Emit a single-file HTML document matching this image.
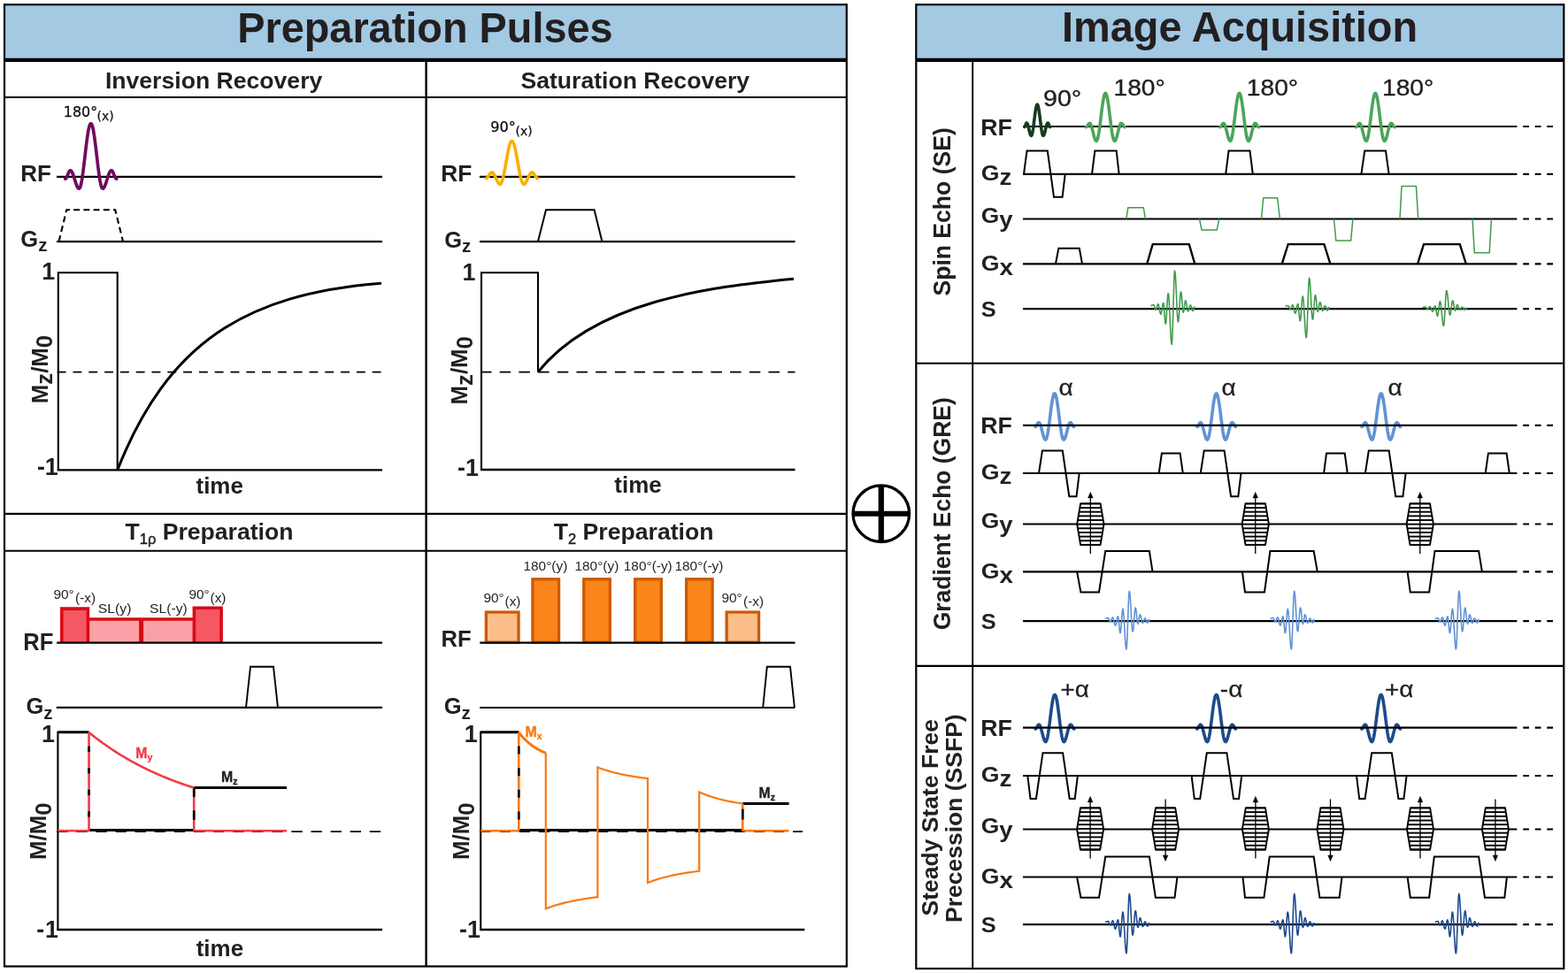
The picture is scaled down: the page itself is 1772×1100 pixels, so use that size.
<!DOCTYPE html>
<html><head><meta charset="utf-8"><title>Preparation Pulses and Image Acquisition</title>
<style>html,body{margin:0;padding:0;background:#fff;}svg{display:block;}</style></head>
<body><svg xmlns="http://www.w3.org/2000/svg" width="1772" height="1100" viewBox="0 0 1772 1100">
<rect x="0" y="0" width="1772" height="1100" fill="#fff"/>
<rect x="5" y="5" width="952" height="62" fill="#a3c9e3" stroke="none" stroke-width="0"/>
<rect x="1035.3" y="5.2" width="732" height="62" fill="#a3c9e3" stroke="none" stroke-width="0"/>
<line x1="5" y1="67.9" x2="957" y2="67.9" stroke="#000" stroke-width="4.4" stroke-linecap="butt"/>
<line x1="1035.3" y1="67.9" x2="1767.3" y2="67.9" stroke="#000" stroke-width="4.4" stroke-linecap="butt"/>
<rect x="5" y="5.2" width="951.8" height="1087.3" fill="none" stroke="#000" stroke-width="2.2"/>
<rect x="1035.3" y="5.2" width="732" height="1089.8" fill="none" stroke="#000" stroke-width="2.2"/>
<line x1="481.6" y1="69" x2="481.6" y2="1092" stroke="#000" stroke-width="2.4" stroke-linecap="butt"/>
<line x1="5" y1="109.95" x2="957" y2="109.95" stroke="#000" stroke-width="2.1" stroke-linecap="butt"/>
<line x1="5" y1="580.9" x2="957" y2="580.9" stroke="#000" stroke-width="2.4" stroke-linecap="butt"/>
<line x1="5" y1="622.7" x2="957" y2="622.7" stroke="#000" stroke-width="2.1" stroke-linecap="butt"/>
<line x1="1099.2" y1="69" x2="1099.2" y2="1094" stroke="#000" stroke-width="1.9" stroke-linecap="butt"/>
<line x1="1035.3" y1="410.8" x2="1767.3" y2="410.8" stroke="#000" stroke-width="2.1" stroke-linecap="butt"/>
<line x1="1035.3" y1="752.9" x2="1767.3" y2="752.9" stroke="#000" stroke-width="2.1" stroke-linecap="butt"/>
<text x="480.4" y="47.6" font-family="'Liberation Sans', Arial, sans-serif" font-size="48.3" font-weight="bold" text-anchor="middle" fill="#231f20" textLength="424.4" lengthAdjust="spacingAndGlyphs">Preparation Pulses</text>
<text x="1401.1" y="47.4" font-family="'Liberation Sans', Arial, sans-serif" font-size="48.3" font-weight="bold" text-anchor="middle" fill="#231f20" textLength="402" lengthAdjust="spacingAndGlyphs">Image Acquisition</text>
<text x="241.6" y="99.7" font-family="'Liberation Sans', Arial, sans-serif" font-size="26.6" font-weight="bold" text-anchor="middle" fill="#231f20">Inversion Recovery</text>
<text x="717.8" y="99.7" font-family="'Liberation Sans', Arial, sans-serif" font-size="26.6" font-weight="bold" text-anchor="middle" fill="#231f20">Saturation Recovery</text>
<text x="141.5" y="609.6" font-family="'Liberation Sans', Arial, sans-serif" font-size="26.6" font-weight="bold" text-anchor="start" fill="#231f20" textLength="190" lengthAdjust="spacingAndGlyphs">T<tspan font-size="16.5" font-weight="normal" stroke="#231f20" stroke-width="0.45" dy="5">1ρ</tspan><tspan dy="-5"> Preparation</tspan></text>
<text x="625.8" y="609.6" font-family="'Liberation Sans', Arial, sans-serif" font-size="26.6" font-weight="bold" text-anchor="start" fill="#231f20">T<tspan font-size="16.5" font-weight="normal" stroke="#231f20" stroke-width="0.45" dy="5">2</tspan><tspan dy="-5"> Preparation</tspan></text>
<circle cx="995.8" cy="580.7" r="31.8" fill="none" stroke="#000" stroke-width="3.3"/>
<line x1="995.8" y1="548" x2="995.8" y2="613.5" stroke="#000" stroke-width="6.3" stroke-linecap="butt"/>
<line x1="963" y1="580.7" x2="1028.6" y2="580.7" stroke="#000" stroke-width="6" stroke-linecap="butt"/>
<text x="23.31" y="205.4" font-family="'Liberation Sans', Arial, sans-serif" font-size="25.22" font-weight="bold" text-anchor="start" fill="#231f20" textLength="34.68" lengthAdjust="spacingAndGlyphs">RF</text>
<line x1="64" y1="199.9" x2="432" y2="199.9" stroke="#000" stroke-width="2.2" stroke-linecap="butt"/>
<polyline points="73.7,202.2 74.11,202.08 74.53,201.73 74.94,201.16 75.36,200.41 75.77,199.51 76.19,198.51 76.6,197.45 77.01,196.39 77.43,195.39 77.84,194.49 78.26,193.74 78.67,193.17 79.09,192.82 79.5,192.7 80.2,192.96 80.91,193.72 81.61,194.94 82.32,196.56 83.02,198.5 83.73,200.67 84.43,202.95 85.13,205.23 85.84,207.4 86.54,209.34 87.25,210.96 87.95,212.18 88.66,212.94 89.36,213.2 90.31,212.28 91.27,209.56 92.22,205.17 93.17,199.34 94.12,192.37 95.08,184.59 96.03,176.4 96.98,168.21 97.94,160.43 98.89,153.46 99.84,147.63 100.79,143.24 101.75,140.52 102.7,139.6 103.65,140.52 104.61,143.24 105.56,147.63 106.51,153.46 107.46,160.43 108.42,168.21 109.37,176.4 110.32,184.59 111.28,192.37 112.23,199.34 113.18,205.17 114.13,209.56 115.09,212.28 116.04,213.2 116.74,212.94 117.45,212.18 118.15,210.96 118.86,209.34 119.56,207.4 120.27,205.23 120.97,202.95 121.67,200.67 122.38,198.5 123.08,196.56 123.79,194.94 124.49,193.72 125.2,192.96 125.9,192.7 126.31,192.82 126.73,193.17 127.14,193.74 127.56,194.49 127.97,195.39 128.39,196.39 128.8,197.45 129.21,198.51 129.63,199.51 130.04,200.41 130.46,201.16 130.87,201.73 131.29,202.08 131.7,202.2" fill="none" stroke="#700a60" stroke-width="3.7" stroke-linejoin="round" stroke-linecap="round"/>
<text x="71.8" y="132.2" font-family="'DejaVu Sans', Verdana, sans-serif" font-size="15.2" font-weight="normal" text-anchor="start" fill="#111" stroke="#111" stroke-width="0.3" textLength="38.3" lengthAdjust="spacingAndGlyphs">180°</text>
<text x="109.6" y="135.8" font-family="'DejaVu Sans', Verdana, sans-serif" font-size="13.9" font-weight="normal" text-anchor="start" fill="#111" stroke="#111" stroke-width="0.25">(x)</text>
<text x="23.3" y="278.8" font-family="'Liberation Sans', Arial, sans-serif" font-size="25.5" font-weight="bold" text-anchor="start" fill="#231f20">G<tspan dy="5.4" font-size="20.5">z</tspan></text>
<line x1="64" y1="273.1" x2="432" y2="273.1" stroke="#000" stroke-width="2.2" stroke-linecap="butt"/>
<polyline points="66.6,273 75.2,237.2 130.2,237.2 139,273" fill="none" stroke="#000" stroke-width="2.1" stroke-linejoin="miter" stroke-linecap="butt" stroke-dasharray="7 4.2"/>
<text x="47.3" y="315.5" font-family="'Liberation Sans', Arial, sans-serif" font-size="26.8" font-weight="bold" text-anchor="start" fill="#231f20">1</text>
<text x="42" y="536.6" font-family="'Liberation Sans', Arial, sans-serif" font-size="26.8" font-weight="bold" text-anchor="start" fill="#231f20">-</text>
<text x="50.7" y="536.6" font-family="'Liberation Sans', Arial, sans-serif" font-size="26.8" font-weight="bold" text-anchor="start" fill="#231f20">1</text>
<polyline points="65.8,531.4 65.8,308.3 132.7,308.3 132.7,531.4" fill="none" stroke="#000" stroke-width="2.1" stroke-linejoin="miter" stroke-linecap="butt"/>
<line x1="64.8" y1="531.4" x2="432" y2="531.4" stroke="#000" stroke-width="2.4" stroke-linecap="butt"/>
<line x1="64.7" y1="420.6" x2="432" y2="420.6" stroke="#000" stroke-width="1.7" stroke-linecap="butt" stroke-dasharray="9.9 7.9"/>
<path d="M132.7,531.4 C189.3,388.2 276.9,332.2 430.9,320.2" fill="none" stroke="#000" stroke-width="3"/>
<text x="248.2" y="557.8" font-family="'Liberation Sans', Arial, sans-serif" font-size="25.3" font-weight="bold" text-anchor="middle" fill="#231f20" textLength="53.4" lengthAdjust="spacingAndGlyphs">time</text>
<text transform="translate(53.6,417.5) rotate(-90)" x="0" y="0" font-family="'Liberation Sans', Arial, sans-serif" font-size="25.8" font-weight="bold" text-anchor="middle" fill="#231f20">M<tspan dy="5.5">z</tspan><tspan dy="-5.5">/M</tspan><tspan dy="5.5">0</tspan></text>
<text x="498.29" y="205" font-family="'Liberation Sans', Arial, sans-serif" font-size="26.09" font-weight="bold" text-anchor="start" fill="#231f20" textLength="35.11" lengthAdjust="spacingAndGlyphs">RF</text>
<line x1="542" y1="199.9" x2="898.5" y2="199.9" stroke="#000" stroke-width="2.2" stroke-linecap="butt"/>
<polyline points="549.5,201.4 549.94,201.32 550.39,201.08 550.83,200.69 551.27,200.18 551.72,199.56 552.16,198.87 552.6,198.15 553.05,197.43 553.49,196.74 553.93,196.12 554.38,195.61 554.82,195.22 555.26,194.98 555.71,194.9 556.38,195.07 557.06,195.56 557.73,196.35 558.41,197.4 559.08,198.66 559.76,200.07 560.43,201.55 561.11,203.03 561.78,204.44 562.46,205.7 563.13,206.75 563.81,207.54 564.48,208.03 565.16,208.2 566.11,207.59 567.07,205.79 568.02,202.89 568.97,199.03 569.92,194.42 570.88,189.27 571.83,183.85 572.78,178.43 573.74,173.28 574.69,168.67 575.64,164.81 576.59,161.91 577.55,160.11 578.5,159.5 579.45,160.11 580.41,161.91 581.36,164.81 582.31,168.67 583.26,173.28 584.22,178.43 585.17,183.85 586.12,189.27 587.08,194.42 588.03,199.03 588.98,202.89 589.93,205.79 590.89,207.59 591.84,208.2 592.52,208.03 593.19,207.54 593.87,206.75 594.54,205.7 595.22,204.44 595.89,203.03 596.57,201.55 597.24,200.07 597.92,198.66 598.59,197.4 599.27,196.35 599.94,195.56 600.62,195.07 601.29,194.9 601.74,194.98 602.18,195.22 602.62,195.61 603.07,196.12 603.51,196.74 603.95,197.43 604.4,198.15 604.84,198.87 605.28,199.56 605.73,200.18 606.17,200.69 606.61,201.08 607.06,201.32 607.5,201.4" fill="none" stroke="#f7b000" stroke-width="3.6" stroke-linejoin="round" stroke-linecap="round"/>
<text x="554.3" y="149.2" font-family="'DejaVu Sans', Verdana, sans-serif" font-size="15.2" font-weight="normal" text-anchor="start" fill="#111" stroke="#111" stroke-width="0.3" textLength="28.6" lengthAdjust="spacingAndGlyphs">90°</text>
<text x="582.6" y="152.8" font-family="'DejaVu Sans', Verdana, sans-serif" font-size="13.9" font-weight="normal" text-anchor="start" fill="#111" stroke="#111" stroke-width="0.25">(x)</text>
<text x="502.2" y="279.8" font-family="'Liberation Sans', Arial, sans-serif" font-size="25.5" font-weight="bold" text-anchor="start" fill="#231f20">G<tspan dy="5.4" font-size="20.5">z</tspan></text>
<line x1="542" y1="273.1" x2="898.5" y2="273.1" stroke="#000" stroke-width="2.2" stroke-linecap="butt"/>
<polyline points="608,273.1 617,237.2 671.6,237.2 680.4,273.1" fill="none" stroke="#000" stroke-width="2" stroke-linejoin="miter" stroke-linecap="butt"/>
<text x="522.5" y="316.8" font-family="'Liberation Sans', Arial, sans-serif" font-size="26.8" font-weight="bold" text-anchor="start" fill="#231f20">1</text>
<text x="517" y="537.7" font-family="'Liberation Sans', Arial, sans-serif" font-size="26.8" font-weight="bold" text-anchor="start" fill="#231f20">-</text>
<text x="525.9" y="537.7" font-family="'Liberation Sans', Arial, sans-serif" font-size="26.8" font-weight="bold" text-anchor="start" fill="#231f20">1</text>
<polyline points="544,531 544,308.3 608,308.3 608,420.6" fill="none" stroke="#000" stroke-width="2.1" stroke-linejoin="miter" stroke-linecap="butt"/>
<line x1="543" y1="531" x2="898.5" y2="531" stroke="#000" stroke-width="2.5" stroke-linecap="butt"/>
<line x1="543" y1="420.6" x2="898.5" y2="420.6" stroke="#000" stroke-width="1.7" stroke-linecap="butt" stroke-dasharray="12.5 9.2"/>
<path d="M608,420.6 C672.6,340.4 801.2,324.5 897,315.2" fill="none" stroke="#000" stroke-width="3"/>
<text x="721" y="557.2" font-family="'Liberation Sans', Arial, sans-serif" font-size="25.3" font-weight="bold" text-anchor="middle" fill="#231f20" textLength="53.4" lengthAdjust="spacingAndGlyphs">time</text>
<text transform="translate(528,418.8) rotate(-90)" x="0" y="0" font-family="'Liberation Sans', Arial, sans-serif" font-size="25.8" font-weight="bold" text-anchor="middle" fill="#231f20">M<tspan dy="5.5">z</tspan><tspan dy="-5.5">/M</tspan><tspan dy="5.5">0</tspan></text>
<text x="26.24" y="734.8" font-family="'Liberation Sans', Arial, sans-serif" font-size="26.96" font-weight="bold" text-anchor="start" fill="#231f20" textLength="34.14" lengthAdjust="spacingAndGlyphs">RF</text>
<rect x="69.8" y="688.1" width="29.6" height="38" fill="#f45862" stroke="none" stroke-width="0"/>
<rect x="99.4" y="700" width="120" height="26" fill="#f9a1a6" stroke="none" stroke-width="0"/>
<rect x="219.4" y="687.3" width="30.7" height="39" fill="#f45862" stroke="none" stroke-width="0"/>
<polyline points="69.8,726.5 69.8,688.1 99.4,688.1 99.4,726.5" fill="none" stroke="#da0a16" stroke-width="3.6" stroke-linejoin="miter" stroke-linecap="butt"/>
<polyline points="99.4,700 219.4,700" fill="none" stroke="#da0a16" stroke-width="3.6" stroke-linejoin="miter" stroke-linecap="butt"/>
<line x1="159.6" y1="700" x2="159.6" y2="726.5" stroke="#da0a16" stroke-width="5" stroke-linecap="butt"/>
<polyline points="219.4,726.5 219.4,687.3 250.1,687.3 250.1,726.5" fill="none" stroke="#da0a16" stroke-width="3.6" stroke-linejoin="miter" stroke-linecap="butt"/>
<line x1="64.2" y1="726.6" x2="432" y2="726.6" stroke="#000" stroke-width="2.1" stroke-linecap="butt"/>
<text x="60.5" y="676.8" font-family="'Liberation Sans', Arial, sans-serif" font-size="15.4" font-weight="normal" text-anchor="start" fill="#231f20">90°</text>
<text x="85" y="681.2" font-family="'Liberation Sans', Arial, sans-serif" font-size="15.4" font-weight="normal" text-anchor="start" fill="#231f20">(-x)</text>
<text x="110.8" y="693.3" font-family="'Liberation Sans', Arial, sans-serif" font-size="15.3" font-weight="normal" text-anchor="start" fill="#231f20" textLength="37.6" lengthAdjust="spacingAndGlyphs">SL(y)</text>
<text x="169.1" y="693.3" font-family="'Liberation Sans', Arial, sans-serif" font-size="15.3" font-weight="normal" text-anchor="start" fill="#231f20" textLength="42.6" lengthAdjust="spacingAndGlyphs">SL(-y)</text>
<text x="213.5" y="676.8" font-family="'Liberation Sans', Arial, sans-serif" font-size="15.4" font-weight="normal" text-anchor="start" fill="#231f20">90°</text>
<text x="237.5" y="681.2" font-family="'Liberation Sans', Arial, sans-serif" font-size="15.4" font-weight="normal" text-anchor="start" fill="#231f20">(x)</text>
<text x="29.4" y="807.3" font-family="'Liberation Sans', Arial, sans-serif" font-size="25.5" font-weight="bold" text-anchor="start" fill="#231f20">G<tspan dy="5.4" font-size="20.5">z</tspan></text>
<line x1="63.8" y1="799.9" x2="432" y2="799.9" stroke="#000" stroke-width="2.1" stroke-linecap="butt"/>
<polyline points="278,799.9 283,753.7 309,753.7 314,799.9" fill="none" stroke="#000" stroke-width="1.9" stroke-linejoin="miter" stroke-linecap="butt"/>
<text x="47" y="839" font-family="'Liberation Sans', Arial, sans-serif" font-size="26.8" font-weight="bold" text-anchor="start" fill="#231f20">1</text>
<text x="41.2" y="1059.7" font-family="'Liberation Sans', Arial, sans-serif" font-size="26.8" font-weight="bold" text-anchor="start" fill="#231f20">-</text>
<text x="51.1" y="1059.7" font-family="'Liberation Sans', Arial, sans-serif" font-size="26.8" font-weight="bold" text-anchor="start" fill="#231f20">1</text>
<line x1="65.4" y1="826.8" x2="65.4" y2="1051.8" stroke="#000" stroke-width="2.1" stroke-linecap="butt"/>
<line x1="64.4" y1="1050.9" x2="432" y2="1050.9" stroke="#000" stroke-width="2.5" stroke-linecap="butt"/>
<line x1="64.2" y1="940.2" x2="432" y2="940.2" stroke="#000" stroke-width="1.7" stroke-linecap="butt" stroke-dasharray="12.3 9.8"/>
<line x1="65.4" y1="939.2" x2="100.5" y2="939.2" stroke="#f03c48" stroke-width="2.6" stroke-linecap="butt"/>
<line x1="219.2" y1="939.2" x2="324" y2="939.2" stroke="#f03c48" stroke-width="2.6" stroke-linecap="butt"/>
<line x1="100.5" y1="938.6" x2="219.2" y2="938.6" stroke="#000" stroke-width="3" stroke-linecap="butt"/>
<line x1="65.4" y1="827.8" x2="100.5" y2="827.8" stroke="#000" stroke-width="3" stroke-linecap="butt"/>
<line x1="219.2" y1="890.6" x2="324" y2="890.6" stroke="#000" stroke-width="3" stroke-linecap="butt"/>
<line x1="100.5" y1="828" x2="100.5" y2="939.5" stroke="#f03c48" stroke-width="2.6" stroke-linecap="butt"/>
<line x1="100.5" y1="843.8" x2="100.5" y2="939.5" stroke="#000" stroke-width="2.6" stroke-linecap="butt" stroke-dasharray="6.2 18.3"/>
<line x1="219.2" y1="890.6" x2="219.2" y2="939.5" stroke="#f03c48" stroke-width="2.6" stroke-linecap="butt"/>
<line x1="219.2" y1="890.6" x2="219.2" y2="939.5" stroke="#000" stroke-width="2.6" stroke-linecap="butt" stroke-dasharray="10.5 15.2"/>
<polyline points="100.5,828 101.69,828.97 102.87,829.92 104.06,830.87 105.25,831.81 106.44,832.74 107.62,833.66 108.81,834.57 110,835.47 111.18,836.36 112.37,837.25 113.56,838.13 114.74,839 115.93,839.86 117.12,840.71 118.3,841.56 119.49,842.39 120.68,843.22 121.87,844.04 123.05,844.86 124.24,845.66 125.43,846.46 126.61,847.25 127.8,848.04 128.99,848.81 130.18,849.58 131.36,850.34 132.55,851.09 133.74,851.84 134.92,852.58 136.11,853.31 137.3,854.04 138.48,854.76 139.67,855.47 140.86,856.18 142.04,856.87 143.23,857.57 144.42,858.25 145.61,858.93 146.79,859.6 147.98,860.27 149.17,860.93 150.35,861.58 151.54,862.23 152.73,862.87 153.91,863.51 155.1,864.14 156.29,864.76 157.48,865.38 158.66,865.99 159.85,866.6 161.04,867.2 162.22,867.79 163.41,868.38 164.6,868.96 165.78,869.54 166.97,870.11 168.16,870.68 169.35,871.24 170.53,871.8 171.72,872.35 172.91,872.9 174.09,873.44 175.28,873.97 176.47,874.5 177.66,875.03 178.84,875.55 180.03,876.06 181.22,876.57 182.4,877.08 183.59,877.58 184.78,878.08 185.96,878.57 187.15,879.06 188.34,879.54 189.52,880.02 190.71,880.49 191.9,880.96 193.09,881.42 194.27,881.88 195.46,882.34 196.65,882.79 197.83,883.24 199.02,883.68 200.21,884.12 201.39,884.55 202.58,884.98 203.77,885.41 204.96,885.83 206.14,886.25 207.33,886.67 208.52,887.08 209.7,887.48 210.89,887.89 212.08,888.28 213.26,888.68 214.45,889.07 215.64,889.46 216.83,889.84 218.01,890.22 219.2,890.6" fill="none" stroke="#f03c48" stroke-width="2.6" stroke-linejoin="round" stroke-linecap="butt"/>
<text x="153.3" y="857" font-family="'Liberation Sans', Arial, sans-serif" font-size="15.8" font-weight="bold" text-anchor="start" fill="#f03c48" stroke="#f03c48" stroke-width="0.35">M<tspan font-size="10.5" dy="3">y</tspan></text>
<text x="250" y="883.8" font-family="'Liberation Sans', Arial, sans-serif" font-size="15.8" font-weight="bold" text-anchor="start" fill="#231f20" stroke="#231f20" stroke-width="0.35">M<tspan font-size="10.5" dy="3">z</tspan></text>
<text x="248.4" y="1081" font-family="'Liberation Sans', Arial, sans-serif" font-size="25.3" font-weight="bold" text-anchor="middle" fill="#231f20" textLength="53.4" lengthAdjust="spacingAndGlyphs">time</text>
<text transform="translate(52,939.7) rotate(-90)" x="0" y="0" font-family="'Liberation Sans', Arial, sans-serif" font-size="25.8" font-weight="bold" text-anchor="middle" fill="#231f20">M/M<tspan dy="5.5">0</tspan></text>
<text x="498.54" y="731.1" font-family="'Liberation Sans', Arial, sans-serif" font-size="26.38" font-weight="bold" text-anchor="start" fill="#231f20" textLength="34.14" lengthAdjust="spacingAndGlyphs">RF</text>
<rect x="549.35" y="692.05" width="36.7" height="34.15" fill="#fdbf89" stroke="#cd5a00" stroke-width="3.3"/>
<rect x="601.95" y="654.75" width="29.6" height="71.45" fill="#fb851a" stroke="#cd5a00" stroke-width="3.3"/>
<rect x="659.75" y="654.75" width="29.6" height="71.45" fill="#fb851a" stroke="#cd5a00" stroke-width="3.3"/>
<rect x="717.65" y="654.75" width="29.7" height="71.45" fill="#fb851a" stroke="#cd5a00" stroke-width="3.3"/>
<rect x="775.65" y="654.75" width="29.5" height="71.45" fill="#fb851a" stroke="#cd5a00" stroke-width="3.3"/>
<rect x="821.15" y="692.05" width="36.4" height="34.15" fill="#fdbf89" stroke="#cd5a00" stroke-width="3.3"/>
<line x1="542.3" y1="726.6" x2="898.5" y2="726.6" stroke="#000" stroke-width="2.1" stroke-linecap="butt"/>
<text x="546.5" y="680.5" font-family="'Liberation Sans', Arial, sans-serif" font-size="15.4" font-weight="normal" text-anchor="start" fill="#231f20">90°</text>
<text x="570.5" y="684.5" font-family="'Liberation Sans', Arial, sans-serif" font-size="15.4" font-weight="normal" text-anchor="start" fill="#231f20">(x)</text>
<text x="591.5" y="645" font-family="'Liberation Sans', Arial, sans-serif" font-size="15.4" font-weight="normal" text-anchor="start" fill="#231f20">180°(y)</text>
<text x="649.5" y="645" font-family="'Liberation Sans', Arial, sans-serif" font-size="15.4" font-weight="normal" text-anchor="start" fill="#231f20">180°(y)</text>
<text x="704.8" y="645" font-family="'Liberation Sans', Arial, sans-serif" font-size="15.4" font-weight="normal" text-anchor="start" fill="#231f20">180°(-y)</text>
<text x="762.5" y="645" font-family="'Liberation Sans', Arial, sans-serif" font-size="15.4" font-weight="normal" text-anchor="start" fill="#231f20">180°(-y)</text>
<text x="815.5" y="680.5" font-family="'Liberation Sans', Arial, sans-serif" font-size="15.4" font-weight="normal" text-anchor="start" fill="#231f20">90°</text>
<text x="840" y="684.5" font-family="'Liberation Sans', Arial, sans-serif" font-size="15.4" font-weight="normal" text-anchor="start" fill="#231f20">(-x)</text>
<text x="501.7" y="807.1" font-family="'Liberation Sans', Arial, sans-serif" font-size="25.5" font-weight="bold" text-anchor="start" fill="#231f20">G<tspan dy="5.4" font-size="20.5">z</tspan></text>
<line x1="542.2" y1="800" x2="898.2" y2="800" stroke="#000" stroke-width="2.1" stroke-linecap="butt"/>
<polyline points="862.2,800 866.8,753.7 893,753.7 897.9,800" fill="none" stroke="#000" stroke-width="1.9" stroke-linejoin="miter" stroke-linecap="butt"/>
<text x="524.7" y="839" font-family="'Liberation Sans', Arial, sans-serif" font-size="26.8" font-weight="bold" text-anchor="start" fill="#231f20">1</text>
<text x="519.1" y="1059.8" font-family="'Liberation Sans', Arial, sans-serif" font-size="26.8" font-weight="bold" text-anchor="start" fill="#231f20">-</text>
<text x="528" y="1059.8" font-family="'Liberation Sans', Arial, sans-serif" font-size="26.8" font-weight="bold" text-anchor="start" fill="#231f20">1</text>
<line x1="543.2" y1="826.8" x2="543.2" y2="1051.8" stroke="#000" stroke-width="2.1" stroke-linecap="butt"/>
<line x1="542.2" y1="1050.9" x2="909.3" y2="1050.9" stroke="#000" stroke-width="2.5" stroke-linecap="butt"/>
<line x1="542.5" y1="940.2" x2="907" y2="940.2" stroke="#000" stroke-width="1.7" stroke-linecap="butt" stroke-dasharray="12.3 9.8"/>
<line x1="543.2" y1="939.2" x2="586.3" y2="939.2" stroke="#f77a12" stroke-width="2.6" stroke-linecap="butt"/>
<line x1="839.3" y1="939.2" x2="891.6" y2="939.2" stroke="#f77a12" stroke-width="2.6" stroke-linecap="butt"/>
<line x1="586.3" y1="938.6" x2="839.3" y2="938.6" stroke="#000" stroke-width="3" stroke-linecap="butt"/>
<line x1="543.2" y1="827.8" x2="586.3" y2="827.8" stroke="#000" stroke-width="3" stroke-linecap="butt"/>
<line x1="839.3" y1="908.5" x2="891.6" y2="908.5" stroke="#000" stroke-width="3" stroke-linecap="butt"/>
<line x1="586.3" y1="828" x2="586.3" y2="939.5" stroke="#f77a12" stroke-width="2.6" stroke-linecap="butt"/>
<line x1="586.3" y1="843.6" x2="586.3" y2="939.5" stroke="#000" stroke-width="2.6" stroke-linecap="butt" stroke-dasharray="9 15.6"/>
<line x1="839.3" y1="908.5" x2="839.3" y2="939.5" stroke="#f77a12" stroke-width="2.6" stroke-linecap="butt"/>
<line x1="839.3" y1="914.7" x2="839.3" y2="926.5" stroke="#000" stroke-width="2.6" stroke-linecap="butt"/>
<polyline points="586.3,828 587.32,829.31 588.33,830.56 589.35,831.77 590.37,832.93 591.38,834.04 592.4,835.11 593.42,836.14 594.43,837.13 595.45,838.08 596.47,838.99 597.48,839.87 598.5,840.71 599.52,841.52 600.53,842.3 601.55,843.04 602.57,843.76 603.58,844.45 604.6,845.11 605.62,845.75 606.63,846.36 607.65,846.95 608.67,847.51 609.68,848.05 610.7,848.58 611.72,849.08 612.73,849.56 613.75,850.02 614.77,850.46 615.78,850.89 616.8,851.3" fill="none" stroke="#f77a12" stroke-width="3" stroke-linejoin="round" stroke-linecap="butt"/>
<polyline points="616.8,851.3 616.8,1027.3 618.75,1026.56 620.71,1025.86 622.66,1025.18 624.61,1024.53 626.57,1023.9 628.52,1023.3 630.47,1022.72 632.43,1022.17 634.38,1021.63 636.33,1021.12 638.29,1020.63 640.24,1020.15 642.19,1019.7 644.15,1019.26 646.1,1018.84 648.05,1018.44 650.01,1018.05 651.96,1017.68 653.91,1017.32 655.87,1016.98 657.82,1016.65 659.77,1016.33 661.73,1016.02 663.68,1015.73 665.63,1015.45 667.59,1015.18 669.54,1014.92 671.49,1014.67 673.45,1014.43 675.4,1014.2 675.4,867.6 677.29,868.3 679.17,868.96 681.06,869.61 682.95,870.22 684.83,870.82 686.72,871.39 688.61,871.93 690.49,872.46 692.38,872.96 694.27,873.45 696.15,873.92 698.04,874.36 699.93,874.8 701.81,875.21 703.7,875.61 705.59,875.99 707.47,876.35 709.36,876.71 711.25,877.05 713.13,877.37 715.02,877.68 716.91,877.98 718.79,878.27 720.68,878.55 722.57,878.82 724.45,879.07 726.34,879.32 728.23,879.55 730.11,879.78 732,880 732,997.9 733.94,997.16 735.88,996.46 737.82,995.78 739.76,995.13 741.7,994.5 743.64,993.9 745.58,993.32 747.52,992.77 749.46,992.23 751.4,991.72 753.34,991.23 755.28,990.75 757.22,990.3 759.16,989.86 761.1,989.44 763.04,989.04 764.98,988.65 766.92,988.28 768.86,987.92 770.8,987.58 772.74,987.25 774.68,986.93 776.62,986.62 778.56,986.33 780.5,986.05 782.44,985.78 784.38,985.52 786.32,985.27 788.26,985.03 790.2,984.8 790.2,895.4 791.84,896.14 793.47,896.84 795.11,897.52 796.75,898.17 798.38,898.8 800.02,899.4 801.66,899.98 803.29,900.53 804.93,901.07 806.57,901.58 808.2,902.07 809.84,902.55 811.48,903 813.11,903.44 814.75,903.86 816.39,904.26 818.02,904.65 819.66,905.02 821.3,905.38 822.93,905.72 824.57,906.05 826.21,906.37 827.84,906.68 829.48,906.97 831.12,907.25 832.75,907.52 834.39,907.78 836.03,908.03 837.66,908.27 839.3,908.5" fill="none" stroke="#f77a12" stroke-width="2.2" stroke-linejoin="miter" stroke-linecap="butt"/>
<text x="593.5" y="832.5" font-family="'Liberation Sans', Arial, sans-serif" font-size="15.8" font-weight="bold" text-anchor="start" fill="#f77a12" stroke="#f77a12" stroke-width="0.35">M<tspan font-size="10.5" dy="3">x</tspan></text>
<text x="857.6" y="902.2" font-family="'Liberation Sans', Arial, sans-serif" font-size="15.8" font-weight="bold" text-anchor="start" fill="#231f20" stroke="#231f20" stroke-width="0.35">M<tspan font-size="10.5" dy="3">z</tspan></text>
<text transform="translate(530,939.7) rotate(-90)" x="0" y="0" font-family="'Liberation Sans', Arial, sans-serif" font-size="25.8" font-weight="bold" text-anchor="middle" fill="#231f20">M/M<tspan dy="5.5">0</tspan></text>
<text transform="translate(1074.3,239.4) rotate(-90)" x="0" y="0" font-family="'Liberation Sans', Arial, sans-serif" font-size="27.5" font-weight="bold" text-anchor="middle" fill="#231f20" textLength="190.3" lengthAdjust="spacingAndGlyphs">Spin Echo (SE)</text>
<line x1="1156" y1="143" x2="1714.4" y2="143" stroke="#000" stroke-width="2.2" stroke-linecap="butt"/>
<line x1="1721.2" y1="143" x2="1756" y2="143" stroke="#000" stroke-width="2.2" stroke-linecap="butt" stroke-dasharray="6.8 6.7"/>
<line x1="1156" y1="196.9" x2="1714.4" y2="196.9" stroke="#000" stroke-width="2.2" stroke-linecap="butt"/>
<line x1="1721.2" y1="196.9" x2="1756" y2="196.9" stroke="#000" stroke-width="2.2" stroke-linecap="butt" stroke-dasharray="6.8 6.7"/>
<line x1="1156" y1="247.5" x2="1714.4" y2="247.5" stroke="#000" stroke-width="2.2" stroke-linecap="butt"/>
<line x1="1721.2" y1="247.5" x2="1756" y2="247.5" stroke="#000" stroke-width="2.2" stroke-linecap="butt" stroke-dasharray="6.8 6.7"/>
<line x1="1156" y1="298.3" x2="1714.4" y2="298.3" stroke="#000" stroke-width="2.2" stroke-linecap="butt"/>
<line x1="1721.2" y1="298.3" x2="1756" y2="298.3" stroke="#000" stroke-width="2.2" stroke-linecap="butt" stroke-dasharray="6.8 6.7"/>
<line x1="1156" y1="349.1" x2="1714.4" y2="349.1" stroke="#000" stroke-width="2.2" stroke-linecap="butt"/>
<line x1="1721.2" y1="349.1" x2="1756" y2="349.1" stroke="#000" stroke-width="2.2" stroke-linecap="butt" stroke-dasharray="6.8 6.7"/>
<text x="1108.3" y="152.5" font-family="'Liberation Sans', Arial, sans-serif" font-size="25.3" font-weight="bold" text-anchor="start" fill="#231f20" textLength="35.6" lengthAdjust="spacingAndGlyphs">RF</text>
<text x="1108.8" y="204.1" font-family="'Liberation Sans', Arial, sans-serif" font-size="24.5" font-weight="bold" text-anchor="start" fill="#231f20" textLength="34.6" lengthAdjust="spacingAndGlyphs">G<tspan dy="4.8" font-size="25.5">z</tspan></text>
<text x="1108.8" y="252.3" font-family="'Liberation Sans', Arial, sans-serif" font-size="24.5" font-weight="bold" text-anchor="start" fill="#231f20" textLength="35.8" lengthAdjust="spacingAndGlyphs">G<tspan dy="4.8" font-size="25.5">y</tspan></text>
<text x="1108.8" y="305.9" font-family="'Liberation Sans', Arial, sans-serif" font-size="24.5" font-weight="bold" text-anchor="start" fill="#231f20" textLength="36.2" lengthAdjust="spacingAndGlyphs">G<tspan dy="4.8" font-size="25.5">x</tspan></text>
<text x="1108.8" y="358.2" font-family="'Liberation Sans', Arial, sans-serif" font-size="24.5" font-weight="bold" text-anchor="start" fill="#231f20" textLength="16.9" lengthAdjust="spacingAndGlyphs">S</text>
<polyline points="1157.8,143.5 1157.97,143.44 1158.15,143.28 1158.32,143.01 1158.5,142.65 1158.67,142.23 1158.85,141.75 1159.02,141.25 1159.2,140.75 1159.37,140.27 1159.55,139.85 1159.72,139.49 1159.9,139.22 1160.07,139.06 1160.25,139 1160.62,139.18 1160.99,139.71 1161.36,140.57 1161.73,141.71 1162.1,143.08 1162.47,144.6 1162.84,146.2 1163.21,147.8 1163.58,149.32 1163.95,150.69 1164.32,151.83 1164.69,152.69 1165.06,153.22 1165.43,153.4 1165.92,152.96 1166.4,151.66 1166.88,149.56 1167.37,146.77 1167.85,143.44 1168.33,139.72 1168.82,135.8 1169.3,131.88 1169.78,128.16 1170.27,124.83 1170.75,122.04 1171.23,119.94 1171.72,118.64 1172.2,118.2 1172.68,118.64 1173.17,119.94 1173.65,122.04 1174.13,124.83 1174.62,128.16 1175.1,131.88 1175.58,135.8 1176.07,139.72 1176.55,143.44 1177.03,146.77 1177.52,149.56 1178,151.66 1178.48,152.96 1178.97,153.4 1179.34,153.22 1179.71,152.69 1180.08,151.83 1180.45,150.69 1180.82,149.32 1181.19,147.8 1181.56,146.2 1181.93,144.6 1182.3,143.08 1182.67,141.71 1183.04,140.57 1183.41,139.71 1183.78,139.18 1184.15,139 1184.33,139.06 1184.5,139.22 1184.68,139.49 1184.85,139.85 1185.03,140.27 1185.2,140.75 1185.38,141.25 1185.55,141.75 1185.73,142.23 1185.9,142.65 1186.08,143.01 1186.25,143.28 1186.43,143.44 1186.6,143.5" fill="none" stroke="#163a1f" stroke-width="3.6" stroke-linejoin="round" stroke-linecap="round"/>
<polyline points="1227.45,143.6 1227.73,143.55 1228.01,143.39 1228.29,143.14 1228.57,142.81 1228.85,142.41 1229.14,141.97 1229.42,141.5 1229.7,141.03 1229.98,140.59 1230.26,140.19 1230.54,139.86 1230.82,139.61 1231.1,139.45 1231.38,139.4 1231.93,139.65 1232.48,140.39 1233.02,141.58 1233.57,143.17 1234.11,145.06 1234.66,147.17 1235.21,149.4 1235.75,151.63 1236.3,153.74 1236.85,155.63 1237.39,157.22 1237.94,158.41 1238.48,159.15 1239.03,159.4 1239.76,158.72 1240.5,156.73 1241.23,153.51 1241.96,149.23 1242.7,144.11 1243.43,138.41 1244.17,132.4 1244.9,126.39 1245.63,120.69 1246.37,115.57 1247.1,111.29 1247.83,108.07 1248.57,106.08 1249.3,105.4 1250.03,106.08 1250.77,108.07 1251.5,111.29 1252.23,115.57 1252.97,120.69 1253.7,126.39 1254.43,132.4 1255.17,138.41 1255.9,144.11 1256.64,149.23 1257.37,153.51 1258.1,156.73 1258.84,158.72 1259.57,159.4 1260.12,159.15 1260.66,158.41 1261.21,157.22 1261.75,155.63 1262.3,153.74 1262.85,151.63 1263.39,149.4 1263.94,147.17 1264.49,145.06 1265.03,143.17 1265.58,141.58 1266.12,140.39 1266.67,139.65 1267.22,139.4 1267.5,139.45 1267.78,139.61 1268.06,139.86 1268.34,140.19 1268.62,140.59 1268.9,141.03 1269.18,141.5 1269.46,141.97 1269.75,142.41 1270.03,142.81 1270.31,143.14 1270.59,143.39 1270.87,143.55 1271.15,143.6" fill="none" stroke="#4ba558" stroke-width="3.6" stroke-linejoin="round" stroke-linecap="round"/>
<polyline points="1378.75,143.6 1379.03,143.55 1379.31,143.39 1379.59,143.14 1379.87,142.81 1380.15,142.41 1380.44,141.97 1380.72,141.5 1381,141.03 1381.28,140.59 1381.56,140.19 1381.84,139.86 1382.12,139.61 1382.4,139.45 1382.68,139.4 1383.23,139.65 1383.78,140.39 1384.32,141.58 1384.87,143.17 1385.41,145.06 1385.96,147.17 1386.51,149.4 1387.05,151.63 1387.6,153.74 1388.15,155.63 1388.69,157.22 1389.24,158.41 1389.78,159.15 1390.33,159.4 1391.06,158.72 1391.8,156.73 1392.53,153.51 1393.26,149.23 1394,144.11 1394.73,138.41 1395.47,132.4 1396.2,126.39 1396.93,120.69 1397.67,115.57 1398.4,111.29 1399.13,108.07 1399.87,106.08 1400.6,105.4 1401.33,106.08 1402.07,108.07 1402.8,111.29 1403.53,115.57 1404.27,120.69 1405,126.39 1405.73,132.4 1406.47,138.41 1407.2,144.11 1407.94,149.23 1408.67,153.51 1409.4,156.73 1410.14,158.72 1410.87,159.4 1411.42,159.15 1411.96,158.41 1412.51,157.22 1413.05,155.63 1413.6,153.74 1414.15,151.63 1414.69,149.4 1415.24,147.17 1415.79,145.06 1416.33,143.17 1416.88,141.58 1417.42,140.39 1417.97,139.65 1418.52,139.4 1418.8,139.45 1419.08,139.61 1419.36,139.86 1419.64,140.19 1419.92,140.59 1420.2,141.03 1420.48,141.5 1420.76,141.97 1421.05,142.41 1421.33,142.81 1421.61,143.14 1421.89,143.39 1422.17,143.55 1422.45,143.6" fill="none" stroke="#4ba558" stroke-width="3.6" stroke-linejoin="round" stroke-linecap="round"/>
<polyline points="1532.45,143.6 1532.73,143.55 1533.01,143.39 1533.29,143.14 1533.57,142.81 1533.85,142.41 1534.14,141.97 1534.42,141.5 1534.7,141.03 1534.98,140.59 1535.26,140.19 1535.54,139.86 1535.82,139.61 1536.1,139.45 1536.38,139.4 1536.93,139.65 1537.48,140.39 1538.02,141.58 1538.57,143.17 1539.11,145.06 1539.66,147.17 1540.21,149.4 1540.75,151.63 1541.3,153.74 1541.85,155.63 1542.39,157.22 1542.94,158.41 1543.48,159.15 1544.03,159.4 1544.76,158.72 1545.5,156.73 1546.23,153.51 1546.96,149.23 1547.7,144.11 1548.43,138.41 1549.17,132.4 1549.9,126.39 1550.63,120.69 1551.37,115.57 1552.1,111.29 1552.83,108.07 1553.57,106.08 1554.3,105.4 1555.03,106.08 1555.77,108.07 1556.5,111.29 1557.23,115.57 1557.97,120.69 1558.7,126.39 1559.43,132.4 1560.17,138.41 1560.9,144.11 1561.64,149.23 1562.37,153.51 1563.1,156.73 1563.84,158.72 1564.57,159.4 1565.12,159.15 1565.66,158.41 1566.21,157.22 1566.75,155.63 1567.3,153.74 1567.85,151.63 1568.39,149.4 1568.94,147.17 1569.49,145.06 1570.03,143.17 1570.58,141.58 1571.12,140.39 1571.67,139.65 1572.22,139.4 1572.5,139.45 1572.78,139.61 1573.06,139.86 1573.34,140.19 1573.62,140.59 1573.9,141.03 1574.18,141.5 1574.46,141.97 1574.75,142.41 1575.03,142.81 1575.31,143.14 1575.59,143.39 1575.87,143.55 1576.15,143.6" fill="none" stroke="#4ba558" stroke-width="3.6" stroke-linejoin="round" stroke-linecap="round"/>
<text x="1179" y="120" font-family="'Liberation Sans', Arial, sans-serif" font-size="26" font-weight="normal" text-anchor="start" fill="#231f20" textLength="43.2" lengthAdjust="spacingAndGlyphs" stroke="#231f20" stroke-width="0.35">90°</text>
<text x="1258.5" y="108.4" font-family="'Liberation Sans', Arial, sans-serif" font-size="26" font-weight="normal" text-anchor="start" fill="#231f20" textLength="58.3" lengthAdjust="spacingAndGlyphs" stroke="#231f20" stroke-width="0.35">180°</text>
<text x="1408.8" y="108.4" font-family="'Liberation Sans', Arial, sans-serif" font-size="26" font-weight="normal" text-anchor="start" fill="#231f20" textLength="58.3" lengthAdjust="spacingAndGlyphs" stroke="#231f20" stroke-width="0.35">180°</text>
<text x="1562" y="108.4" font-family="'Liberation Sans', Arial, sans-serif" font-size="26" font-weight="normal" text-anchor="start" fill="#231f20" textLength="58.3" lengthAdjust="spacingAndGlyphs" stroke="#231f20" stroke-width="0.35">180°</text>
<polyline points="1157,196.9 1160.5,170.6 1183.8,170.6 1191,222.8 1200.6,222.8 1203.7,196.9" fill="none" stroke="#000" stroke-width="2" stroke-linejoin="miter" stroke-linecap="butt"/>
<polyline points="1234,196.9 1237.3,170.6 1261.7,170.6 1264.6,196.9" fill="none" stroke="#000" stroke-width="2" stroke-linejoin="miter" stroke-linecap="butt"/>
<polyline points="1385.2,196.9 1388.5,170.6 1412.5,170.6 1415.8,196.9" fill="none" stroke="#000" stroke-width="2" stroke-linejoin="miter" stroke-linecap="butt"/>
<polyline points="1538.4,196.9 1542.2,170.6 1566,170.6 1569.6,196.9" fill="none" stroke="#000" stroke-width="2" stroke-linejoin="miter" stroke-linecap="butt"/>
<polyline points="1272.8,247.5 1274.8,234.8 1292.3,234.8 1294.4,247.5" fill="none" stroke="#3f9c4b" stroke-width="1.5" stroke-linejoin="miter" stroke-linecap="butt"/>
<polyline points="1355.5,247.5 1358,260 1375.2,260 1377.7,247.5" fill="none" stroke="#3f9c4b" stroke-width="1.5" stroke-linejoin="miter" stroke-linecap="butt"/>
<polyline points="1425.5,247.5 1427.7,223.7 1443.6,223.7 1446.4,247.5" fill="none" stroke="#3f9c4b" stroke-width="1.5" stroke-linejoin="miter" stroke-linecap="butt"/>
<polyline points="1507.5,247.5 1509.8,272 1526.6,272 1528.9,247.5" fill="none" stroke="#3f9c4b" stroke-width="1.5" stroke-linejoin="miter" stroke-linecap="butt"/>
<polyline points="1582,247.5 1584,210.6 1600.4,210.6 1602.7,247.5" fill="none" stroke="#3f9c4b" stroke-width="1.5" stroke-linejoin="miter" stroke-linecap="butt"/>
<polyline points="1664,247.5 1666.3,285.7 1683.2,285.7 1685.4,247.5" fill="none" stroke="#3f9c4b" stroke-width="1.5" stroke-linejoin="miter" stroke-linecap="butt"/>
<polyline points="1193,298.3 1196.3,280.7 1219.8,280.7 1223,298.3" fill="none" stroke="#000" stroke-width="2" stroke-linejoin="miter" stroke-linecap="butt"/>
<polyline points="1296.2,298.3 1302.7,276.1 1343.8,276.1 1350.3,298.3" fill="none" stroke="#000" stroke-width="2.35" stroke-linejoin="miter" stroke-linecap="butt"/>
<polyline points="1448.7,298.3 1455.7,276.1 1496.4,276.1 1503.4,298.3" fill="none" stroke="#000" stroke-width="2.35" stroke-linejoin="miter" stroke-linecap="butt"/>
<polyline points="1602,298.3 1609,276.1 1649.8,276.1 1656.8,298.3" fill="none" stroke="#000" stroke-width="2.35" stroke-linejoin="miter" stroke-linecap="butt"/>
<polyline points="1301,345.4 1301.33,345.37 1301.65,345.28 1301.97,345.15 1302.3,345 1302.62,344.85 1302.95,344.72 1303.27,344.63 1303.6,344.6 1303.92,344.81 1304.25,345.41 1304.58,346.3 1304.9,347.35 1305.22,348.4 1305.55,349.29 1305.88,349.89 1306.2,350.1 1306.53,349.86 1306.85,349.16 1307.17,348.12 1307.5,346.9 1307.83,345.68 1308.15,344.64 1308.47,343.94 1308.8,343.7 1309.17,344.14 1309.55,345.4 1309.92,347.28 1310.3,349.5 1310.67,351.72 1311.05,353.6 1311.42,354.86 1311.8,355.3 1312.16,354.81 1312.53,353.41 1312.89,351.32 1313.25,348.85 1313.61,346.38 1313.97,344.29 1314.34,342.89 1314.7,342.4 1315.03,343.3 1315.35,345.87 1315.67,349.72 1316,354.25 1316.33,358.78 1316.65,362.63 1316.97,365.2 1317.3,366.1 1317.66,364.79 1318.03,361.05 1318.39,355.45 1318.75,348.85 1319.11,342.25 1319.47,336.65 1319.84,332.91 1320.2,331.6 1320.7,333.8 1321.2,340.06 1321.7,349.44 1322.2,360.5 1322.7,371.56 1323.2,380.94 1323.7,387.2 1324.2,389.4 1324.62,386.23 1325.05,377.2 1325.47,363.69 1325.9,347.75 1326.33,331.81 1326.75,318.3 1327.17,309.27 1327.6,306.1 1328.07,308.3 1328.55,314.58 1329.03,323.97 1329.5,335.05 1329.97,346.13 1330.45,355.52 1330.93,361.8 1331.4,364 1331.79,362.7 1332.18,359.01 1332.56,353.47 1332.95,346.95 1333.34,340.43 1333.72,334.89 1334.11,331.2 1334.5,329.9 1334.85,330.79 1335.2,333.31 1335.55,337.09 1335.9,341.55 1336.25,346.01 1336.6,349.79 1336.95,352.31 1337.3,353.2 1337.6,352.69 1337.9,351.24 1338.2,349.06 1338.5,346.5 1338.8,343.94 1339.1,341.76 1339.4,340.31 1339.7,339.8 1340.08,340.26 1340.45,341.57 1340.83,343.53 1341.2,345.85 1341.58,348.17 1341.95,350.13 1342.33,351.44 1342.7,351.9 1343.03,351.64 1343.35,350.89 1343.67,349.77 1344,348.45 1344.33,347.13 1344.65,346.01 1344.97,345.26 1345.3,345 1345.65,345.25 1346,345.95 1346.35,347.01 1346.7,348.25 1347.05,349.49 1347.4,350.55 1347.75,351.25 1348.1,351.5 1348.31,351.33 1348.52,350.86 1348.74,350.14 1348.95,349.3 1349.16,348.46 1349.38,347.74 1349.59,347.27 1349.8,347.1 1349.86,347.15 1349.92,347.31 1349.99,347.53 1350.05,347.8 1350.11,348.07 1350.17,348.29 1350.24,348.45 1350.3,348.5" fill="none" stroke="#3f9c4b" stroke-width="1.6" stroke-linejoin="round" stroke-linecap="round"/>
<polyline points="1453,346.1 1453.33,346.08 1453.65,346.01 1453.97,345.9 1454.3,345.78 1454.62,345.66 1454.95,345.55 1455.27,345.48 1455.6,345.46 1455.92,345.62 1456.25,346.11 1456.58,346.83 1456.9,347.68 1457.22,348.53 1457.55,349.26 1457.88,349.74 1458.2,349.91 1458.53,349.71 1458.85,349.15 1459.17,348.31 1459.5,347.32 1459.83,346.33 1460.15,345.49 1460.47,344.92 1460.8,344.73 1461.17,345.08 1461.55,346.1 1461.92,347.63 1462.3,349.42 1462.67,351.22 1463.05,352.75 1463.42,353.76 1463.8,354.12 1464.16,353.72 1464.53,352.59 1464.89,350.9 1465.25,348.9 1465.61,346.9 1465.97,345.2 1466.34,344.07 1466.7,343.67 1467.03,344.4 1467.35,346.48 1467.67,349.6 1468,353.27 1468.33,356.94 1468.65,360.06 1468.97,362.14 1469.3,362.87 1469.66,361.81 1470.03,358.78 1470.39,354.24 1470.75,348.9 1471.11,343.55 1471.47,339.02 1471.84,335.99 1472.2,334.93 1472.7,336.71 1473.2,341.78 1473.7,349.38 1474.2,358.33 1474.7,367.29 1475.2,374.89 1475.7,379.96 1476.2,381.74 1476.62,379.17 1477.05,371.86 1477.47,360.92 1477.9,348.01 1478.33,335.1 1478.75,324.15 1479.17,316.84 1479.6,314.27 1480.07,316.05 1480.55,321.14 1481.03,328.75 1481.5,337.72 1481.97,346.69 1482.45,354.3 1482.93,359.38 1483.4,361.17 1483.79,360.12 1484.18,357.12 1484.56,352.64 1484.95,347.36 1485.34,342.07 1485.72,337.59 1486.11,334.6 1486.5,333.55 1486.85,334.27 1487.2,336.31 1487.55,339.37 1487.9,342.98 1488.25,346.6 1488.6,349.66 1488.95,351.7 1489.3,352.42 1489.6,352.01 1489.9,350.83 1490.2,349.07 1490.5,346.99 1490.8,344.92 1491.1,343.16 1491.4,341.98 1491.7,341.57 1492.08,341.94 1492.45,343 1492.83,344.59 1493.2,346.47 1493.58,348.34 1493.95,349.93 1494.33,350.99 1494.7,351.37 1495.03,351.16 1495.35,350.55 1495.67,349.64 1496,348.57 1496.33,347.5 1496.65,346.6 1496.97,345.99 1497.3,345.78 1497.65,345.98 1498,346.55 1498.35,347.4 1498.7,348.41 1499.05,349.42 1499.4,350.27 1499.75,350.84 1500.1,351.04 1500.31,350.91 1500.52,350.52 1500.74,349.94 1500.95,349.26 1501.16,348.58 1501.38,348 1501.59,347.62 1501.8,347.48 1501.86,347.52 1501.92,347.65 1501.99,347.83 1502.05,348.05 1502.11,348.26 1502.17,348.45 1502.24,348.57 1502.3,348.61" fill="none" stroke="#3f9c4b" stroke-width="1.6" stroke-linejoin="round" stroke-linecap="round"/>
<polyline points="1608.2,347.32 1608.53,347.31 1608.85,347.27 1609.17,347.21 1609.5,347.13 1609.83,347.06 1610.15,347 1610.47,346.95 1610.8,346.94 1611.12,347.04 1611.45,347.33 1611.78,347.75 1612.1,348.26 1612.42,348.77 1612.75,349.19 1613.08,349.48 1613.4,349.58 1613.73,349.46 1614.05,349.13 1614.38,348.63 1614.7,348.04 1615.03,347.46 1615.35,346.96 1615.67,346.62 1616,346.51 1616.38,346.72 1616.75,347.32 1617.12,348.23 1617.5,349.29 1617.88,350.36 1618.25,351.26 1618.62,351.86 1619,352.08 1619.36,351.84 1619.72,351.17 1620.09,350.16 1620.45,348.98 1620.81,347.8 1621.18,346.79 1621.54,346.12 1621.9,345.88 1622.23,346.32 1622.55,347.55 1622.88,349.4 1623.2,351.57 1623.53,353.75 1623.85,355.59 1624.17,356.83 1624.5,357.26 1624.86,356.63 1625.22,354.83 1625.59,352.15 1625.95,348.98 1626.31,345.81 1626.68,343.13 1627.04,341.33 1627.4,340.7 1627.9,341.76 1628.4,344.76 1628.9,349.26 1629.4,354.57 1629.9,359.88 1630.4,364.38 1630.9,367.39 1631.4,368.44 1631.83,366.92 1632.25,362.59 1632.67,356.1 1633.1,348.45 1633.53,340.8 1633.95,334.32 1634.38,329.98 1634.8,328.46 1635.28,329.52 1635.75,332.53 1636.22,337.04 1636.7,342.36 1637.18,347.67 1637.65,352.18 1638.12,355.19 1638.6,356.25 1638.99,355.63 1639.38,353.85 1639.76,351.2 1640.15,348.07 1640.54,344.94 1640.93,342.28 1641.31,340.51 1641.7,339.88 1642.05,340.31 1642.4,341.52 1642.75,343.34 1643.1,345.48 1643.45,347.62 1643.8,349.43 1644.15,350.64 1644.5,351.07 1644.8,350.82 1645.1,350.13 1645.4,349.08 1645.7,347.85 1646,346.62 1646.3,345.58 1646.6,344.88 1646.9,344.64 1647.28,344.86 1647.65,345.49 1648.03,346.43 1648.4,347.54 1648.78,348.65 1649.15,349.59 1649.53,350.22 1649.9,350.44 1650.23,350.32 1650.55,349.96 1650.88,349.42 1651.2,348.79 1651.53,348.15 1651.85,347.62 1652.17,347.26 1652.5,347.13 1652.85,347.25 1653.2,347.59 1653.55,348.1 1653.9,348.69 1654.25,349.29 1654.6,349.8 1654.95,350.13 1655.3,350.25 1655.51,350.17 1655.72,349.94 1655.94,349.6 1656.15,349.2 1656.36,348.79 1656.58,348.45 1656.79,348.22 1657,348.14 1657.06,348.17 1657.12,348.24 1657.19,348.35 1657.25,348.48 1657.31,348.6 1657.38,348.71 1657.44,348.79 1657.5,348.81" fill="none" stroke="#3f9c4b" stroke-width="1.6" stroke-linejoin="round" stroke-linecap="round"/>
<text transform="translate(1074.3,580.8) rotate(-90)" x="0" y="0" font-family="'Liberation Sans', Arial, sans-serif" font-size="27.5" font-weight="bold" text-anchor="middle" fill="#231f20" textLength="263" lengthAdjust="spacingAndGlyphs">Gradient Echo (GRE)</text>
<line x1="1156" y1="535" x2="1714.4" y2="535" stroke="#000" stroke-width="2.2" stroke-linecap="butt"/>
<line x1="1721.2" y1="535" x2="1756" y2="535" stroke="#000" stroke-width="2.2" stroke-linecap="butt" stroke-dasharray="6.8 6.7"/>
<line x1="1156" y1="592.5" x2="1714.4" y2="592.5" stroke="#000" stroke-width="2.2" stroke-linecap="butt"/>
<line x1="1721.2" y1="592.5" x2="1756" y2="592.5" stroke="#000" stroke-width="2.2" stroke-linecap="butt" stroke-dasharray="6.8 6.7"/>
<line x1="1156" y1="646.3" x2="1714.4" y2="646.3" stroke="#000" stroke-width="2.2" stroke-linecap="butt"/>
<line x1="1721.2" y1="646.3" x2="1756" y2="646.3" stroke="#000" stroke-width="2.2" stroke-linecap="butt" stroke-dasharray="6.8 6.7"/>
<line x1="1156" y1="702.2" x2="1714.4" y2="702.2" stroke="#000" stroke-width="2.2" stroke-linecap="butt"/>
<line x1="1721.2" y1="702.2" x2="1756" y2="702.2" stroke="#000" stroke-width="2.2" stroke-linecap="butt" stroke-dasharray="6.8 6.7"/>
<text x="1108.3" y="490.4" font-family="'Liberation Sans', Arial, sans-serif" font-size="25.3" font-weight="bold" text-anchor="start" fill="#231f20" textLength="35.6" lengthAdjust="spacingAndGlyphs">RF</text>
<text x="1108.8" y="542.2" font-family="'Liberation Sans', Arial, sans-serif" font-size="24.5" font-weight="bold" text-anchor="start" fill="#231f20" textLength="34.6" lengthAdjust="spacingAndGlyphs">G<tspan dy="4.8" font-size="25.5">z</tspan></text>
<text x="1108.8" y="597.3" font-family="'Liberation Sans', Arial, sans-serif" font-size="24.5" font-weight="bold" text-anchor="start" fill="#231f20" textLength="35.8" lengthAdjust="spacingAndGlyphs">G<tspan dy="4.8" font-size="25.5">y</tspan></text>
<text x="1108.8" y="653.9" font-family="'Liberation Sans', Arial, sans-serif" font-size="24.5" font-weight="bold" text-anchor="start" fill="#231f20" textLength="36.2" lengthAdjust="spacingAndGlyphs">G<tspan dy="4.8" font-size="25.5">x</tspan></text>
<text x="1108.8" y="711.3" font-family="'Liberation Sans', Arial, sans-serif" font-size="24.5" font-weight="bold" text-anchor="start" fill="#231f20" textLength="16.9" lengthAdjust="spacingAndGlyphs">S</text>
<polyline points="1170,482.5 1170.28,482.44 1170.56,482.26 1170.84,481.98 1171.12,481.6 1171.4,481.14 1171.68,480.63 1171.96,480.1 1172.24,479.57 1172.52,479.06 1172.8,478.6 1173.08,478.22 1173.36,477.94 1173.64,477.76 1173.92,477.7 1174.47,477.94 1175.01,478.66 1175.56,479.82 1176.1,481.35 1176.65,483.19 1177.19,485.24 1177.74,487.4 1178.28,489.56 1178.83,491.61 1179.37,493.45 1179.92,494.98 1180.46,496.14 1181.01,496.86 1181.55,497.1 1182.29,496.44 1183.02,494.51 1183.75,491.39 1184.48,487.25 1185.21,482.3 1185.95,476.77 1186.68,470.95 1187.41,465.13 1188.14,459.6 1188.87,454.65 1189.6,450.51 1190.34,447.39 1191.07,445.46 1191.8,444.8 1192.53,445.46 1193.26,447.39 1194,450.51 1194.73,454.65 1195.46,459.6 1196.19,465.13 1196.92,470.95 1197.65,476.77 1198.39,482.3 1199.12,487.25 1199.85,491.39 1200.58,494.51 1201.31,496.44 1202.05,497.1 1202.59,496.86 1203.14,496.14 1203.68,494.98 1204.23,493.45 1204.77,491.61 1205.32,489.56 1205.86,487.4 1206.41,485.24 1206.95,483.19 1207.5,481.35 1208.04,479.82 1208.59,478.66 1209.13,477.94 1209.68,477.7 1209.96,477.76 1210.24,477.94 1210.52,478.22 1210.8,478.6 1211.08,479.06 1211.36,479.57 1211.64,480.1 1211.92,480.63 1212.2,481.14 1212.48,481.6 1212.76,481.98 1213.04,482.26 1213.32,482.44 1213.6,482.5" fill="none" stroke="#6093d6" stroke-width="3.6" stroke-linejoin="round" stroke-linecap="round"/>
<polyline points="1352.8,482.5 1353.08,482.44 1353.36,482.26 1353.64,481.98 1353.92,481.6 1354.2,481.14 1354.48,480.63 1354.76,480.1 1355.04,479.57 1355.32,479.06 1355.6,478.6 1355.88,478.22 1356.16,477.94 1356.44,477.76 1356.72,477.7 1357.27,477.94 1357.81,478.66 1358.36,479.82 1358.9,481.35 1359.45,483.19 1359.99,485.24 1360.54,487.4 1361.08,489.56 1361.63,491.61 1362.17,493.45 1362.72,494.98 1363.26,496.14 1363.81,496.86 1364.35,497.1 1365.09,496.44 1365.82,494.51 1366.55,491.39 1367.28,487.25 1368.01,482.3 1368.75,476.77 1369.48,470.95 1370.21,465.13 1370.94,459.6 1371.67,454.65 1372.4,450.51 1373.14,447.39 1373.87,445.46 1374.6,444.8 1375.33,445.46 1376.06,447.39 1376.8,450.51 1377.53,454.65 1378.26,459.6 1378.99,465.13 1379.72,470.95 1380.45,476.77 1381.19,482.3 1381.92,487.25 1382.65,491.39 1383.38,494.51 1384.11,496.44 1384.85,497.1 1385.39,496.86 1385.94,496.14 1386.48,494.98 1387.03,493.45 1387.57,491.61 1388.12,489.56 1388.66,487.4 1389.21,485.24 1389.75,483.19 1390.3,481.35 1390.84,479.82 1391.39,478.66 1391.93,477.94 1392.48,477.7 1392.76,477.76 1393.04,477.94 1393.32,478.22 1393.6,478.6 1393.88,479.06 1394.16,479.57 1394.44,480.1 1394.72,480.63 1395,481.14 1395.28,481.6 1395.56,481.98 1395.84,482.26 1396.12,482.44 1396.4,482.5" fill="none" stroke="#6093d6" stroke-width="3.6" stroke-linejoin="round" stroke-linecap="round"/>
<polyline points="1539,482.5 1539.28,482.44 1539.56,482.26 1539.84,481.98 1540.12,481.6 1540.4,481.14 1540.68,480.63 1540.96,480.1 1541.24,479.57 1541.52,479.06 1541.8,478.6 1542.08,478.22 1542.36,477.94 1542.64,477.76 1542.92,477.7 1543.47,477.94 1544.01,478.66 1544.56,479.82 1545.1,481.35 1545.65,483.19 1546.19,485.24 1546.74,487.4 1547.28,489.56 1547.83,491.61 1548.37,493.45 1548.92,494.98 1549.46,496.14 1550.01,496.86 1550.55,497.1 1551.29,496.44 1552.02,494.51 1552.75,491.39 1553.48,487.25 1554.21,482.3 1554.95,476.77 1555.68,470.95 1556.41,465.13 1557.14,459.6 1557.87,454.65 1558.6,450.51 1559.34,447.39 1560.07,445.46 1560.8,444.8 1561.53,445.46 1562.26,447.39 1563,450.51 1563.73,454.65 1564.46,459.6 1565.19,465.13 1565.92,470.95 1566.65,476.77 1567.39,482.3 1568.12,487.25 1568.85,491.39 1569.58,494.51 1570.31,496.44 1571.05,497.1 1571.59,496.86 1572.14,496.14 1572.68,494.98 1573.23,493.45 1573.77,491.61 1574.32,489.56 1574.86,487.4 1575.41,485.24 1575.95,483.19 1576.5,481.35 1577.04,479.82 1577.59,478.66 1578.13,477.94 1578.68,477.7 1578.96,477.76 1579.24,477.94 1579.52,478.22 1579.8,478.6 1580.08,479.06 1580.36,479.57 1580.64,480.1 1580.92,480.63 1581.2,481.14 1581.48,481.6 1581.76,481.98 1582.04,482.26 1582.32,482.44 1582.6,482.5" fill="none" stroke="#6093d6" stroke-width="3.6" stroke-linejoin="round" stroke-linecap="round"/>
<text x="1196.6" y="446.9" font-family="'Liberation Sans', Arial, sans-serif" font-size="26.5" font-weight="normal" text-anchor="start" fill="#231f20" stroke="#231f20" stroke-width="0.3" textLength="16.2" lengthAdjust="spacingAndGlyphs">α</text>
<text x="1380.6" y="446.9" font-family="'Liberation Sans', Arial, sans-serif" font-size="26.5" font-weight="normal" text-anchor="start" fill="#231f20" stroke="#231f20" stroke-width="0.3" textLength="16.2" lengthAdjust="spacingAndGlyphs">α</text>
<text x="1568.4" y="446.9" font-family="'Liberation Sans', Arial, sans-serif" font-size="26.5" font-weight="normal" text-anchor="start" fill="#231f20" stroke="#231f20" stroke-width="0.3" textLength="16.2" lengthAdjust="spacingAndGlyphs">α</text>
<polyline points="1174,535 1177.9,509.5 1200.8,509.5 1208.3,561.2 1216.5,561.2 1219.7,535" fill="none" stroke="#000" stroke-width="2" stroke-linejoin="miter" stroke-linecap="butt"/>
<polyline points="1356.8,535 1360.7,509.5 1383.6,509.5 1391.1,561.2 1399.3,561.2 1402.5,535" fill="none" stroke="#000" stroke-width="2" stroke-linejoin="miter" stroke-linecap="butt"/>
<polyline points="1542.9,535 1546.8,509.5 1569.7,509.5 1577.2,561.2 1585.4,561.2 1588.6,535" fill="none" stroke="#000" stroke-width="2" stroke-linejoin="miter" stroke-linecap="butt"/>
<polyline points="1309.7,535 1312.9,512.4 1333.6,512.4 1336.8,535" fill="none" stroke="#000" stroke-width="2" stroke-linejoin="miter" stroke-linecap="butt"/>
<polyline points="1496.1,535 1499,512.4 1519.7,512.4 1522.8,535" fill="none" stroke="#000" stroke-width="2" stroke-linejoin="miter" stroke-linecap="butt"/>
<polyline points="1678.7,535 1681.9,512.4 1702.6,512.4 1705.8,535" fill="none" stroke="#000" stroke-width="2" stroke-linejoin="miter" stroke-linecap="butt"/>
<polygon points="1217.2,592.5 1221.1,569.4 1243.6,569.4 1247.5,592.5 1243.6,615.9 1221.1,615.9" fill="#fff" stroke="#000" stroke-width="1.9" stroke-linejoin="miter" stroke-linecap="butt"/>
<line x1="1221.1" y1="569.4" x2="1243.6" y2="569.4" stroke="#000" stroke-width="1.9" stroke-linecap="butt"/>
<line x1="1220.31" y1="574.05" x2="1244.39" y2="574.05" stroke="#000" stroke-width="1.9" stroke-linecap="butt"/>
<line x1="1219.53" y1="578.7" x2="1245.17" y2="578.7" stroke="#000" stroke-width="1.9" stroke-linecap="butt"/>
<line x1="1218.74" y1="583.35" x2="1245.96" y2="583.35" stroke="#000" stroke-width="1.9" stroke-linecap="butt"/>
<line x1="1217.96" y1="588" x2="1246.74" y2="588" stroke="#000" stroke-width="1.9" stroke-linecap="butt"/>
<line x1="1217.23" y1="592.65" x2="1247.47" y2="592.65" stroke="#000" stroke-width="1.9" stroke-linecap="butt"/>
<line x1="1218" y1="597.3" x2="1246.7" y2="597.3" stroke="#000" stroke-width="1.9" stroke-linecap="butt"/>
<line x1="1218.78" y1="601.95" x2="1245.92" y2="601.95" stroke="#000" stroke-width="1.9" stroke-linecap="butt"/>
<line x1="1219.55" y1="606.6" x2="1245.15" y2="606.6" stroke="#000" stroke-width="1.9" stroke-linecap="butt"/>
<line x1="1220.33" y1="611.25" x2="1244.38" y2="611.25" stroke="#000" stroke-width="1.9" stroke-linecap="butt"/>
<line x1="1221.1" y1="615.9" x2="1243.6" y2="615.9" stroke="#000" stroke-width="1.9" stroke-linecap="butt"/>
<line x1="1232.35" y1="625.9" x2="1232.35" y2="562.4" stroke="#000" stroke-width="1.3" stroke-linecap="butt"/>
<polygon points="1229.55,562.9 1232.35,556.4 1235.15,562.9" fill="#000" stroke="#000" stroke-width="0.5" stroke-linejoin="miter" stroke-linecap="butt"/>
<polygon points="1403.6,592.5 1407.5,569.4 1430,569.4 1433.9,592.5 1430,615.9 1407.5,615.9" fill="#fff" stroke="#000" stroke-width="1.9" stroke-linejoin="miter" stroke-linecap="butt"/>
<line x1="1407.5" y1="569.4" x2="1430" y2="569.4" stroke="#000" stroke-width="1.9" stroke-linecap="butt"/>
<line x1="1406.71" y1="574.05" x2="1430.79" y2="574.05" stroke="#000" stroke-width="1.9" stroke-linecap="butt"/>
<line x1="1405.93" y1="578.7" x2="1431.57" y2="578.7" stroke="#000" stroke-width="1.9" stroke-linecap="butt"/>
<line x1="1405.14" y1="583.35" x2="1432.36" y2="583.35" stroke="#000" stroke-width="1.9" stroke-linecap="butt"/>
<line x1="1404.36" y1="588" x2="1433.14" y2="588" stroke="#000" stroke-width="1.9" stroke-linecap="butt"/>
<line x1="1403.62" y1="592.65" x2="1433.87" y2="592.65" stroke="#000" stroke-width="1.9" stroke-linecap="butt"/>
<line x1="1404.4" y1="597.3" x2="1433.1" y2="597.3" stroke="#000" stroke-width="1.9" stroke-linecap="butt"/>
<line x1="1405.17" y1="601.95" x2="1432.32" y2="601.95" stroke="#000" stroke-width="1.9" stroke-linecap="butt"/>
<line x1="1405.95" y1="606.6" x2="1431.55" y2="606.6" stroke="#000" stroke-width="1.9" stroke-linecap="butt"/>
<line x1="1406.72" y1="611.25" x2="1430.77" y2="611.25" stroke="#000" stroke-width="1.9" stroke-linecap="butt"/>
<line x1="1407.5" y1="615.9" x2="1430" y2="615.9" stroke="#000" stroke-width="1.9" stroke-linecap="butt"/>
<line x1="1418.75" y1="625.9" x2="1418.75" y2="562.4" stroke="#000" stroke-width="1.3" stroke-linecap="butt"/>
<polygon points="1415.95,562.9 1418.75,556.4 1421.55,562.9" fill="#000" stroke="#000" stroke-width="0.5" stroke-linejoin="miter" stroke-linecap="butt"/>
<polygon points="1589.6,592.5 1593.5,569.4 1616,569.4 1619.9,592.5 1616,615.9 1593.5,615.9" fill="#fff" stroke="#000" stroke-width="1.9" stroke-linejoin="miter" stroke-linecap="butt"/>
<line x1="1593.5" y1="569.4" x2="1616" y2="569.4" stroke="#000" stroke-width="1.9" stroke-linecap="butt"/>
<line x1="1592.71" y1="574.05" x2="1616.79" y2="574.05" stroke="#000" stroke-width="1.9" stroke-linecap="butt"/>
<line x1="1591.93" y1="578.7" x2="1617.57" y2="578.7" stroke="#000" stroke-width="1.9" stroke-linecap="butt"/>
<line x1="1591.14" y1="583.35" x2="1618.36" y2="583.35" stroke="#000" stroke-width="1.9" stroke-linecap="butt"/>
<line x1="1590.36" y1="588" x2="1619.14" y2="588" stroke="#000" stroke-width="1.9" stroke-linecap="butt"/>
<line x1="1589.62" y1="592.65" x2="1619.87" y2="592.65" stroke="#000" stroke-width="1.9" stroke-linecap="butt"/>
<line x1="1590.4" y1="597.3" x2="1619.1" y2="597.3" stroke="#000" stroke-width="1.9" stroke-linecap="butt"/>
<line x1="1591.17" y1="601.95" x2="1618.32" y2="601.95" stroke="#000" stroke-width="1.9" stroke-linecap="butt"/>
<line x1="1591.95" y1="606.6" x2="1617.55" y2="606.6" stroke="#000" stroke-width="1.9" stroke-linecap="butt"/>
<line x1="1592.72" y1="611.25" x2="1616.77" y2="611.25" stroke="#000" stroke-width="1.9" stroke-linecap="butt"/>
<line x1="1593.5" y1="615.9" x2="1616" y2="615.9" stroke="#000" stroke-width="1.9" stroke-linecap="butt"/>
<line x1="1604.75" y1="625.9" x2="1604.75" y2="562.4" stroke="#000" stroke-width="1.3" stroke-linecap="butt"/>
<polygon points="1601.95,562.9 1604.75,556.4 1607.55,562.9" fill="#000" stroke="#000" stroke-width="0.5" stroke-linejoin="miter" stroke-linecap="butt"/>
<polyline points="1217.1,646.3 1221.4,669.5 1242,669.5 1249.2,623 1298.9,623 1302.5,646.3" fill="none" stroke="#000" stroke-width="2" stroke-linejoin="miter" stroke-linecap="butt"/>
<polyline points="1403.9,646.3 1407,669.5 1429,669.5 1435.4,623 1484.7,623 1488.8,646.3" fill="none" stroke="#000" stroke-width="2" stroke-linejoin="miter" stroke-linecap="butt"/>
<polyline points="1590.6,646.3 1593.8,669.5 1615.1,669.5 1621.5,623 1671.1,623 1674.9,646.3" fill="none" stroke="#000" stroke-width="2" stroke-linejoin="miter" stroke-linecap="butt"/>
<polyline points="1249.7,699.28 1250.03,699.25 1250.35,699.18 1250.67,699.08 1251,698.96 1251.33,698.84 1251.65,698.74 1251.97,698.67 1252.3,698.65 1252.62,698.81 1252.95,699.28 1253.28,699.99 1253.6,700.82 1253.92,701.65 1254.25,702.35 1254.58,702.82 1254.9,702.99 1255.23,702.8 1255.55,702.25 1255.88,701.43 1256.2,700.46 1256.53,699.49 1256.85,698.67 1257.17,698.13 1257.5,697.93 1257.88,698.28 1258.25,699.28 1258.62,700.76 1259,702.52 1259.38,704.27 1259.75,705.76 1260.12,706.75 1260.5,707.1 1260.86,706.71 1261.22,705.61 1261.59,703.95 1261.95,702 1262.31,700.05 1262.68,698.4 1263.04,697.29 1263.4,696.91 1263.73,697.62 1264.05,699.65 1264.38,702.69 1264.7,706.27 1265.03,709.85 1265.35,712.89 1265.67,714.92 1266,715.63 1266.36,714.59 1266.72,711.64 1267.09,707.22 1267.45,702 1267.81,696.79 1268.18,692.37 1268.54,689.41 1268.9,688.38 1269.4,690.11 1269.9,695.06 1270.4,702.47 1270.9,711.21 1271.4,719.94 1271.9,727.35 1272.4,732.3 1272.9,734.04 1273.33,731.53 1273.75,724.4 1274.17,713.73 1274.6,701.13 1275.03,688.54 1275.45,677.87 1275.88,670.73 1276.3,668.23 1276.78,669.97 1277.25,674.93 1277.72,682.35 1278.2,691.1 1278.68,699.85 1279.15,707.27 1279.62,712.23 1280.1,713.97 1280.49,712.95 1280.88,710.03 1281.26,705.66 1281.65,700.5 1282.04,695.35 1282.43,690.98 1282.81,688.06 1283.2,687.03 1283.55,687.73 1283.9,689.73 1284.25,692.71 1284.6,696.24 1284.95,699.76 1285.3,702.74 1285.65,704.74 1286,705.44 1286.3,705.04 1286.6,703.89 1286.9,702.17 1287.2,700.15 1287.5,698.12 1287.8,696.4 1288.1,695.26 1288.4,694.85 1288.78,695.22 1289.15,696.25 1289.53,697.8 1289.9,699.63 1290.28,701.46 1290.65,703.01 1291.03,704.05 1291.4,704.41 1291.73,704.2 1292.05,703.61 1292.38,702.73 1292.7,701.69 1293.03,700.64 1293.35,699.76 1293.67,699.17 1294,698.96 1294.35,699.16 1294.7,699.71 1295.05,700.55 1295.4,701.53 1295.75,702.51 1296.1,703.34 1296.45,703.9 1296.8,704.1 1297.01,703.96 1297.22,703.59 1297.44,703.02 1297.65,702.36 1297.86,701.69 1298.08,701.13 1298.29,700.75 1298.5,700.62 1298.56,700.66 1298.62,700.78 1298.69,700.96 1298.75,701.17 1298.81,701.38 1298.88,701.56 1298.94,701.68 1299,701.73" fill="none" stroke="#6093d6" stroke-width="1.6" stroke-linejoin="round" stroke-linecap="round"/>
<polyline points="1436.1,699.28 1436.42,699.25 1436.75,699.18 1437.07,699.08 1437.4,698.96 1437.72,698.84 1438.05,698.74 1438.37,698.67 1438.7,698.65 1439.02,698.81 1439.35,699.28 1439.67,699.99 1440,700.82 1440.32,701.65 1440.65,702.35 1440.97,702.82 1441.3,702.99 1441.62,702.8 1441.95,702.25 1442.27,701.43 1442.6,700.46 1442.92,699.49 1443.25,698.67 1443.57,698.13 1443.9,697.93 1444.27,698.28 1444.65,699.28 1445.02,700.76 1445.4,702.52 1445.77,704.27 1446.15,705.76 1446.52,706.75 1446.9,707.1 1447.26,706.71 1447.62,705.61 1447.99,703.95 1448.35,702 1448.71,700.05 1449.07,698.4 1449.44,697.29 1449.8,696.91 1450.12,697.62 1450.45,699.65 1450.77,702.69 1451.1,706.27 1451.42,709.85 1451.75,712.89 1452.07,714.92 1452.4,715.63 1452.76,714.59 1453.12,711.64 1453.49,707.22 1453.85,702 1454.21,696.79 1454.57,692.37 1454.94,689.41 1455.3,688.38 1455.8,690.11 1456.3,695.06 1456.8,702.47 1457.3,711.21 1457.8,719.94 1458.3,727.35 1458.8,732.3 1459.3,734.04 1459.72,731.53 1460.15,724.4 1460.57,713.73 1461,701.13 1461.42,688.54 1461.85,677.87 1462.27,670.73 1462.7,668.23 1463.17,669.97 1463.65,674.93 1464.12,682.35 1464.6,691.1 1465.07,699.85 1465.55,707.27 1466.03,712.23 1466.5,713.97 1466.89,712.95 1467.28,710.03 1467.66,705.66 1468.05,700.5 1468.44,695.35 1468.82,690.98 1469.21,688.06 1469.6,687.03 1469.95,687.73 1470.3,689.73 1470.65,692.71 1471,696.24 1471.35,699.76 1471.7,702.74 1472.05,704.74 1472.4,705.44 1472.7,705.04 1473,703.89 1473.3,702.17 1473.6,700.15 1473.9,698.12 1474.2,696.4 1474.5,695.26 1474.8,694.85 1475.17,695.22 1475.55,696.25 1475.92,697.8 1476.3,699.63 1476.67,701.46 1477.05,703.01 1477.42,704.05 1477.8,704.41 1478.12,704.2 1478.45,703.61 1478.77,702.73 1479.1,701.69 1479.42,700.64 1479.75,699.76 1480.07,699.17 1480.4,698.96 1480.75,699.16 1481.1,699.71 1481.45,700.55 1481.8,701.53 1482.15,702.51 1482.5,703.34 1482.85,703.9 1483.2,704.1 1483.41,703.96 1483.62,703.59 1483.84,703.02 1484.05,702.36 1484.26,701.69 1484.47,701.13 1484.69,700.75 1484.9,700.62 1484.96,700.66 1485.02,700.78 1485.09,700.96 1485.15,701.17 1485.21,701.38 1485.27,701.56 1485.34,701.68 1485.4,701.73" fill="none" stroke="#6093d6" stroke-width="1.6" stroke-linejoin="round" stroke-linecap="round"/>
<polyline points="1622.2,699.28 1622.53,699.25 1622.85,699.18 1623.17,699.08 1623.5,698.96 1623.83,698.84 1624.15,698.74 1624.47,698.67 1624.8,698.65 1625.12,698.81 1625.45,699.28 1625.78,699.99 1626.1,700.82 1626.42,701.65 1626.75,702.35 1627.08,702.82 1627.4,702.99 1627.73,702.8 1628.05,702.25 1628.38,701.43 1628.7,700.46 1629.03,699.49 1629.35,698.67 1629.67,698.13 1630,697.93 1630.38,698.28 1630.75,699.28 1631.12,700.76 1631.5,702.52 1631.88,704.27 1632.25,705.76 1632.62,706.75 1633,707.1 1633.36,706.71 1633.72,705.61 1634.09,703.95 1634.45,702 1634.81,700.05 1635.18,698.4 1635.54,697.29 1635.9,696.91 1636.23,697.62 1636.55,699.65 1636.88,702.69 1637.2,706.27 1637.53,709.85 1637.85,712.89 1638.17,714.92 1638.5,715.63 1638.86,714.59 1639.22,711.64 1639.59,707.22 1639.95,702 1640.31,696.79 1640.68,692.37 1641.04,689.41 1641.4,688.38 1641.9,690.11 1642.4,695.06 1642.9,702.47 1643.4,711.21 1643.9,719.94 1644.4,727.35 1644.9,732.3 1645.4,734.04 1645.83,731.53 1646.25,724.4 1646.67,713.73 1647.1,701.13 1647.53,688.54 1647.95,677.87 1648.38,670.73 1648.8,668.23 1649.28,669.97 1649.75,674.93 1650.22,682.35 1650.7,691.1 1651.18,699.85 1651.65,707.27 1652.12,712.23 1652.6,713.97 1652.99,712.95 1653.38,710.03 1653.76,705.66 1654.15,700.5 1654.54,695.35 1654.93,690.98 1655.31,688.06 1655.7,687.03 1656.05,687.73 1656.4,689.73 1656.75,692.71 1657.1,696.24 1657.45,699.76 1657.8,702.74 1658.15,704.74 1658.5,705.44 1658.8,705.04 1659.1,703.89 1659.4,702.17 1659.7,700.15 1660,698.12 1660.3,696.4 1660.6,695.26 1660.9,694.85 1661.28,695.22 1661.65,696.25 1662.03,697.8 1662.4,699.63 1662.78,701.46 1663.15,703.01 1663.53,704.05 1663.9,704.41 1664.23,704.2 1664.55,703.61 1664.88,702.73 1665.2,701.69 1665.53,700.64 1665.85,699.76 1666.17,699.17 1666.5,698.96 1666.85,699.16 1667.2,699.71 1667.55,700.55 1667.9,701.53 1668.25,702.51 1668.6,703.34 1668.95,703.9 1669.3,704.1 1669.51,703.96 1669.72,703.59 1669.94,703.02 1670.15,702.36 1670.36,701.69 1670.58,701.13 1670.79,700.75 1671,700.62 1671.06,700.66 1671.12,700.78 1671.19,700.96 1671.25,701.17 1671.31,701.38 1671.38,701.56 1671.44,701.68 1671.5,701.73" fill="none" stroke="#6093d6" stroke-width="1.6" stroke-linejoin="round" stroke-linecap="round"/>
<text transform="translate(1060,924.2) rotate(-90)" x="0" y="0" font-family="'Liberation Sans', Arial, sans-serif" font-size="26.5" font-weight="bold" text-anchor="middle" fill="#231f20">Steady State Free</text>
<text transform="translate(1087.1,925.2) rotate(-90)" x="0" y="0" font-family="'Liberation Sans', Arial, sans-serif" font-size="26.5" font-weight="bold" text-anchor="middle" fill="#231f20">Precession (SSFP)</text>
<line x1="1156" y1="480.9" x2="1714.4" y2="480.9" stroke="#000" stroke-width="2.2" stroke-linecap="butt"/>
<line x1="1721.2" y1="480.9" x2="1756" y2="480.9" stroke="#000" stroke-width="2.2" stroke-linecap="butt" stroke-dasharray="6.8 6.7"/>
<line x1="1156" y1="877" x2="1714.4" y2="877" stroke="#000" stroke-width="2.2" stroke-linecap="butt"/>
<line x1="1721.2" y1="877" x2="1756" y2="877" stroke="#000" stroke-width="2.2" stroke-linecap="butt" stroke-dasharray="6.8 6.7"/>
<line x1="1156" y1="937.5" x2="1714.4" y2="937.5" stroke="#000" stroke-width="2.2" stroke-linecap="butt"/>
<line x1="1721.2" y1="937.5" x2="1756" y2="937.5" stroke="#000" stroke-width="2.2" stroke-linecap="butt" stroke-dasharray="6.8 6.7"/>
<line x1="1156" y1="991.5" x2="1714.4" y2="991.5" stroke="#000" stroke-width="2.2" stroke-linecap="butt"/>
<line x1="1721.2" y1="991.5" x2="1756" y2="991.5" stroke="#000" stroke-width="2.2" stroke-linecap="butt" stroke-dasharray="6.8 6.7"/>
<line x1="1156" y1="1045.2" x2="1714.4" y2="1045.2" stroke="#000" stroke-width="2.2" stroke-linecap="butt"/>
<line x1="1721.2" y1="1045.2" x2="1756" y2="1045.2" stroke="#000" stroke-width="2.2" stroke-linecap="butt" stroke-dasharray="6.8 6.7"/>
<text x="1108.3" y="832.1" font-family="'Liberation Sans', Arial, sans-serif" font-size="25.3" font-weight="bold" text-anchor="start" fill="#231f20" textLength="35.6" lengthAdjust="spacingAndGlyphs">RF</text>
<text x="1108.8" y="884.2" font-family="'Liberation Sans', Arial, sans-serif" font-size="24.5" font-weight="bold" text-anchor="start" fill="#231f20" textLength="34.6" lengthAdjust="spacingAndGlyphs">G<tspan dy="4.8" font-size="25.5">z</tspan></text>
<text x="1108.8" y="942.3" font-family="'Liberation Sans', Arial, sans-serif" font-size="24.5" font-weight="bold" text-anchor="start" fill="#231f20" textLength="35.8" lengthAdjust="spacingAndGlyphs">G<tspan dy="4.8" font-size="25.5">y</tspan></text>
<text x="1108.8" y="999.1" font-family="'Liberation Sans', Arial, sans-serif" font-size="24.5" font-weight="bold" text-anchor="start" fill="#231f20" textLength="36.2" lengthAdjust="spacingAndGlyphs">G<tspan dy="4.8" font-size="25.5">x</tspan></text>
<text x="1108.8" y="1054.3" font-family="'Liberation Sans', Arial, sans-serif" font-size="24.5" font-weight="bold" text-anchor="start" fill="#231f20" textLength="16.9" lengthAdjust="spacingAndGlyphs">S</text>
<polyline points="1170.1,824 1170.38,823.94 1170.66,823.76 1170.94,823.48 1171.23,823.1 1171.51,822.64 1171.79,822.13 1172.07,821.6 1172.35,821.07 1172.63,820.56 1172.92,820.1 1173.2,819.72 1173.48,819.44 1173.76,819.26 1174.04,819.2 1174.59,819.44 1175.14,820.16 1175.68,821.32 1176.23,822.85 1176.78,824.69 1177.33,826.74 1177.87,828.9 1178.42,831.06 1178.97,833.11 1179.52,834.95 1180.06,836.48 1180.61,837.64 1181.16,838.36 1181.71,838.6 1182.44,837.93 1183.18,835.96 1183.91,832.79 1184.65,828.57 1185.38,823.51 1186.12,817.88 1186.85,811.95 1187.59,806.02 1188.32,800.39 1189.06,795.33 1189.79,791.11 1190.53,787.94 1191.26,785.97 1192,785.3 1192.74,785.97 1193.47,787.94 1194.21,791.11 1194.94,795.33 1195.68,800.39 1196.41,806.02 1197.15,811.95 1197.88,817.88 1198.62,823.51 1199.35,828.57 1200.09,832.79 1200.82,835.96 1201.56,837.93 1202.29,838.6 1202.84,838.36 1203.39,837.64 1203.94,836.48 1204.48,834.95 1205.03,833.11 1205.58,831.06 1206.13,828.9 1206.67,826.74 1207.22,824.69 1207.77,822.85 1208.32,821.32 1208.86,820.16 1209.41,819.44 1209.96,819.2 1210.24,819.26 1210.52,819.44 1210.8,819.72 1211.08,820.1 1211.37,820.56 1211.65,821.07 1211.93,821.6 1212.21,822.13 1212.49,822.64 1212.77,823.1 1213.06,823.48 1213.34,823.76 1213.62,823.94 1213.9,824" fill="none" stroke="#1c4a8d" stroke-width="3.6" stroke-linejoin="round" stroke-linecap="round"/>
<polyline points="1352.7,824 1352.98,823.94 1353.26,823.76 1353.54,823.48 1353.83,823.1 1354.11,822.64 1354.39,822.13 1354.67,821.6 1354.95,821.07 1355.23,820.56 1355.52,820.1 1355.8,819.72 1356.08,819.44 1356.36,819.26 1356.64,819.2 1357.19,819.44 1357.74,820.16 1358.28,821.32 1358.83,822.85 1359.38,824.69 1359.93,826.74 1360.47,828.9 1361.02,831.06 1361.57,833.11 1362.12,834.95 1362.66,836.48 1363.21,837.64 1363.76,838.36 1364.31,838.6 1365.04,837.93 1365.78,835.96 1366.51,832.79 1367.25,828.57 1367.98,823.51 1368.72,817.88 1369.45,811.95 1370.19,806.02 1370.92,800.39 1371.66,795.33 1372.39,791.11 1373.13,787.94 1373.86,785.97 1374.6,785.3 1375.34,785.97 1376.07,787.94 1376.81,791.11 1377.54,795.33 1378.28,800.39 1379.01,806.02 1379.75,811.95 1380.48,817.88 1381.22,823.51 1381.95,828.57 1382.69,832.79 1383.42,835.96 1384.16,837.93 1384.89,838.6 1385.44,838.36 1385.99,837.64 1386.54,836.48 1387.08,834.95 1387.63,833.11 1388.18,831.06 1388.73,828.9 1389.27,826.74 1389.82,824.69 1390.37,822.85 1390.92,821.32 1391.46,820.16 1392.01,819.44 1392.56,819.2 1392.84,819.26 1393.12,819.44 1393.4,819.72 1393.68,820.1 1393.97,820.56 1394.25,821.07 1394.53,821.6 1394.81,822.13 1395.09,822.64 1395.37,823.1 1395.66,823.48 1395.94,823.76 1396.22,823.94 1396.5,824" fill="none" stroke="#1c4a8d" stroke-width="3.6" stroke-linejoin="round" stroke-linecap="round"/>
<polyline points="1538.8,824 1539.08,823.94 1539.36,823.76 1539.64,823.48 1539.93,823.1 1540.21,822.64 1540.49,822.13 1540.77,821.6 1541.05,821.07 1541.33,820.56 1541.62,820.1 1541.9,819.72 1542.18,819.44 1542.46,819.26 1542.74,819.2 1543.29,819.44 1543.84,820.16 1544.38,821.32 1544.93,822.85 1545.48,824.69 1546.03,826.74 1546.57,828.9 1547.12,831.06 1547.67,833.11 1548.22,834.95 1548.76,836.48 1549.31,837.64 1549.86,838.36 1550.41,838.6 1551.14,837.93 1551.88,835.96 1552.61,832.79 1553.35,828.57 1554.08,823.51 1554.82,817.88 1555.55,811.95 1556.29,806.02 1557.02,800.39 1557.76,795.33 1558.49,791.11 1559.23,787.94 1559.96,785.97 1560.7,785.3 1561.44,785.97 1562.17,787.94 1562.91,791.11 1563.64,795.33 1564.38,800.39 1565.11,806.02 1565.85,811.95 1566.58,817.88 1567.32,823.51 1568.05,828.57 1568.79,832.79 1569.52,835.96 1570.26,837.93 1570.99,838.6 1571.54,838.36 1572.09,837.64 1572.64,836.48 1573.18,834.95 1573.73,833.11 1574.28,831.06 1574.83,828.9 1575.37,826.74 1575.92,824.69 1576.47,822.85 1577.02,821.32 1577.56,820.16 1578.11,819.44 1578.66,819.2 1578.94,819.26 1579.22,819.44 1579.5,819.72 1579.78,820.1 1580.07,820.56 1580.35,821.07 1580.63,821.6 1580.91,822.13 1581.19,822.64 1581.47,823.1 1581.76,823.48 1582.04,823.76 1582.32,823.94 1582.6,824" fill="none" stroke="#1c4a8d" stroke-width="3.6" stroke-linejoin="round" stroke-linecap="round"/>
<text x="1198.4" y="787.9" font-family="'Liberation Sans', Arial, sans-serif" font-size="26.5" font-weight="normal" text-anchor="start" fill="#231f20" stroke="#231f20" stroke-width="0.3" textLength="32.4" lengthAdjust="spacingAndGlyphs">+α</text>
<text x="1378.8" y="787.9" font-family="'Liberation Sans', Arial, sans-serif" font-size="26.5" font-weight="normal" text-anchor="start" fill="#231f20" stroke="#231f20" stroke-width="0.3" textLength="25.6" lengthAdjust="spacingAndGlyphs">-α</text>
<text x="1565" y="787.9" font-family="'Liberation Sans', Arial, sans-serif" font-size="26.5" font-weight="normal" text-anchor="start" fill="#231f20" stroke="#231f20" stroke-width="0.3" textLength="32.4" lengthAdjust="spacingAndGlyphs">+α</text>
<polyline points="1161.3,877 1164.5,903 1170.9,903 1178.5,851.2 1201.1,851.2 1208.7,903 1214.7,903 1217.9,877" fill="none" stroke="#000" stroke-width="2" stroke-linejoin="miter" stroke-linecap="butt"/>
<polyline points="1346.6,877 1349.8,903 1356.2,903 1363.8,851.2 1386.4,851.2 1394,903 1400,903 1403.2,877" fill="none" stroke="#000" stroke-width="2" stroke-linejoin="miter" stroke-linecap="butt"/>
<polyline points="1533,877 1536.2,903 1542.6,903 1550.2,851.2 1572.8,851.2 1580.4,903 1586.4,903 1589.6,877" fill="none" stroke="#000" stroke-width="2" stroke-linejoin="miter" stroke-linecap="butt"/>
<polygon points="1217.1,937.5 1221,913.4 1243.2,913.4 1247.1,937.5 1243.2,960.5 1221,960.5" fill="#fff" stroke="#000" stroke-width="1.9" stroke-linejoin="miter" stroke-linecap="butt"/>
<line x1="1221" y1="913.4" x2="1243.2" y2="913.4" stroke="#000" stroke-width="1.9" stroke-linecap="butt"/>
<line x1="1220.24" y1="918.11" x2="1243.96" y2="918.11" stroke="#000" stroke-width="1.9" stroke-linecap="butt"/>
<line x1="1219.48" y1="922.82" x2="1244.72" y2="922.82" stroke="#000" stroke-width="1.9" stroke-linecap="butt"/>
<line x1="1218.71" y1="927.53" x2="1245.49" y2="927.53" stroke="#000" stroke-width="1.9" stroke-linecap="butt"/>
<line x1="1217.95" y1="932.24" x2="1246.25" y2="932.24" stroke="#000" stroke-width="1.9" stroke-linecap="butt"/>
<line x1="1217.19" y1="936.95" x2="1247.01" y2="936.95" stroke="#000" stroke-width="1.9" stroke-linecap="butt"/>
<line x1="1217.81" y1="941.66" x2="1246.39" y2="941.66" stroke="#000" stroke-width="1.9" stroke-linecap="butt"/>
<line x1="1218.6" y1="946.37" x2="1245.6" y2="946.37" stroke="#000" stroke-width="1.9" stroke-linecap="butt"/>
<line x1="1219.4" y1="951.08" x2="1244.8" y2="951.08" stroke="#000" stroke-width="1.9" stroke-linecap="butt"/>
<line x1="1220.2" y1="955.79" x2="1244" y2="955.79" stroke="#000" stroke-width="1.9" stroke-linecap="butt"/>
<line x1="1221" y1="960.5" x2="1243.2" y2="960.5" stroke="#000" stroke-width="1.9" stroke-linecap="butt"/>
<line x1="1232.1" y1="970.5" x2="1232.1" y2="906.4" stroke="#000" stroke-width="1.3" stroke-linecap="butt"/>
<polygon points="1229.3,906.9 1232.1,900.4 1234.9,906.9" fill="#000" stroke="#000" stroke-width="0.5" stroke-linejoin="miter" stroke-linecap="butt"/>
<polygon points="1302.1,937.5 1306,913.4 1328.2,913.4 1332.1,937.5 1328.2,960.5 1306,960.5" fill="#fff" stroke="#000" stroke-width="1.9" stroke-linejoin="miter" stroke-linecap="butt"/>
<line x1="1306" y1="913.4" x2="1328.2" y2="913.4" stroke="#000" stroke-width="1.9" stroke-linecap="butt"/>
<line x1="1305.24" y1="918.11" x2="1328.96" y2="918.11" stroke="#000" stroke-width="1.9" stroke-linecap="butt"/>
<line x1="1304.48" y1="922.82" x2="1329.72" y2="922.82" stroke="#000" stroke-width="1.9" stroke-linecap="butt"/>
<line x1="1303.71" y1="927.53" x2="1330.49" y2="927.53" stroke="#000" stroke-width="1.9" stroke-linecap="butt"/>
<line x1="1302.95" y1="932.24" x2="1331.25" y2="932.24" stroke="#000" stroke-width="1.9" stroke-linecap="butt"/>
<line x1="1302.19" y1="936.95" x2="1332.01" y2="936.95" stroke="#000" stroke-width="1.9" stroke-linecap="butt"/>
<line x1="1302.81" y1="941.66" x2="1331.39" y2="941.66" stroke="#000" stroke-width="1.9" stroke-linecap="butt"/>
<line x1="1303.6" y1="946.37" x2="1330.6" y2="946.37" stroke="#000" stroke-width="1.9" stroke-linecap="butt"/>
<line x1="1304.4" y1="951.08" x2="1329.8" y2="951.08" stroke="#000" stroke-width="1.9" stroke-linecap="butt"/>
<line x1="1305.2" y1="955.79" x2="1329" y2="955.79" stroke="#000" stroke-width="1.9" stroke-linecap="butt"/>
<line x1="1306" y1="960.5" x2="1328.2" y2="960.5" stroke="#000" stroke-width="1.9" stroke-linecap="butt"/>
<line x1="1317.1" y1="903.4" x2="1317.1" y2="967.5" stroke="#000" stroke-width="1.3" stroke-linecap="butt"/>
<polygon points="1314.3,967 1317.1,973.5 1319.9,967" fill="#000" stroke="#000" stroke-width="0.5" stroke-linejoin="miter" stroke-linecap="butt"/>
<polygon points="1403.9,937.5 1407.8,913.4 1430,913.4 1433.9,937.5 1430,960.5 1407.8,960.5" fill="#fff" stroke="#000" stroke-width="1.9" stroke-linejoin="miter" stroke-linecap="butt"/>
<line x1="1407.8" y1="913.4" x2="1430" y2="913.4" stroke="#000" stroke-width="1.9" stroke-linecap="butt"/>
<line x1="1407.04" y1="918.11" x2="1430.76" y2="918.11" stroke="#000" stroke-width="1.9" stroke-linecap="butt"/>
<line x1="1406.28" y1="922.82" x2="1431.52" y2="922.82" stroke="#000" stroke-width="1.9" stroke-linecap="butt"/>
<line x1="1405.51" y1="927.53" x2="1432.29" y2="927.53" stroke="#000" stroke-width="1.9" stroke-linecap="butt"/>
<line x1="1404.75" y1="932.24" x2="1433.05" y2="932.24" stroke="#000" stroke-width="1.9" stroke-linecap="butt"/>
<line x1="1403.99" y1="936.95" x2="1433.81" y2="936.95" stroke="#000" stroke-width="1.9" stroke-linecap="butt"/>
<line x1="1404.61" y1="941.66" x2="1433.19" y2="941.66" stroke="#000" stroke-width="1.9" stroke-linecap="butt"/>
<line x1="1405.4" y1="946.37" x2="1432.4" y2="946.37" stroke="#000" stroke-width="1.9" stroke-linecap="butt"/>
<line x1="1406.2" y1="951.08" x2="1431.6" y2="951.08" stroke="#000" stroke-width="1.9" stroke-linecap="butt"/>
<line x1="1407" y1="955.79" x2="1430.8" y2="955.79" stroke="#000" stroke-width="1.9" stroke-linecap="butt"/>
<line x1="1407.8" y1="960.5" x2="1430" y2="960.5" stroke="#000" stroke-width="1.9" stroke-linecap="butt"/>
<line x1="1418.9" y1="970.5" x2="1418.9" y2="906.4" stroke="#000" stroke-width="1.3" stroke-linecap="butt"/>
<polygon points="1416.1,906.9 1418.9,900.4 1421.7,906.9" fill="#000" stroke="#000" stroke-width="0.5" stroke-linejoin="miter" stroke-linecap="butt"/>
<polygon points="1488.5,937.5 1492.4,913.4 1514.6,913.4 1518.5,937.5 1514.6,960.5 1492.4,960.5" fill="#fff" stroke="#000" stroke-width="1.9" stroke-linejoin="miter" stroke-linecap="butt"/>
<line x1="1492.4" y1="913.4" x2="1514.6" y2="913.4" stroke="#000" stroke-width="1.9" stroke-linecap="butt"/>
<line x1="1491.64" y1="918.11" x2="1515.36" y2="918.11" stroke="#000" stroke-width="1.9" stroke-linecap="butt"/>
<line x1="1490.88" y1="922.82" x2="1516.12" y2="922.82" stroke="#000" stroke-width="1.9" stroke-linecap="butt"/>
<line x1="1490.11" y1="927.53" x2="1516.89" y2="927.53" stroke="#000" stroke-width="1.9" stroke-linecap="butt"/>
<line x1="1489.35" y1="932.24" x2="1517.65" y2="932.24" stroke="#000" stroke-width="1.9" stroke-linecap="butt"/>
<line x1="1488.59" y1="936.95" x2="1518.41" y2="936.95" stroke="#000" stroke-width="1.9" stroke-linecap="butt"/>
<line x1="1489.21" y1="941.66" x2="1517.79" y2="941.66" stroke="#000" stroke-width="1.9" stroke-linecap="butt"/>
<line x1="1490" y1="946.37" x2="1517" y2="946.37" stroke="#000" stroke-width="1.9" stroke-linecap="butt"/>
<line x1="1490.8" y1="951.08" x2="1516.2" y2="951.08" stroke="#000" stroke-width="1.9" stroke-linecap="butt"/>
<line x1="1491.6" y1="955.79" x2="1515.4" y2="955.79" stroke="#000" stroke-width="1.9" stroke-linecap="butt"/>
<line x1="1492.4" y1="960.5" x2="1514.6" y2="960.5" stroke="#000" stroke-width="1.9" stroke-linecap="butt"/>
<line x1="1503.5" y1="903.4" x2="1503.5" y2="967.5" stroke="#000" stroke-width="1.3" stroke-linecap="butt"/>
<polygon points="1500.7,967 1503.5,973.5 1506.3,967" fill="#000" stroke="#000" stroke-width="0.5" stroke-linejoin="miter" stroke-linecap="butt"/>
<polygon points="1590,937.5 1593.9,913.4 1616.1,913.4 1620,937.5 1616.1,960.5 1593.9,960.5" fill="#fff" stroke="#000" stroke-width="1.9" stroke-linejoin="miter" stroke-linecap="butt"/>
<line x1="1593.9" y1="913.4" x2="1616.1" y2="913.4" stroke="#000" stroke-width="1.9" stroke-linecap="butt"/>
<line x1="1593.14" y1="918.11" x2="1616.86" y2="918.11" stroke="#000" stroke-width="1.9" stroke-linecap="butt"/>
<line x1="1592.38" y1="922.82" x2="1617.62" y2="922.82" stroke="#000" stroke-width="1.9" stroke-linecap="butt"/>
<line x1="1591.61" y1="927.53" x2="1618.39" y2="927.53" stroke="#000" stroke-width="1.9" stroke-linecap="butt"/>
<line x1="1590.85" y1="932.24" x2="1619.15" y2="932.24" stroke="#000" stroke-width="1.9" stroke-linecap="butt"/>
<line x1="1590.09" y1="936.95" x2="1619.91" y2="936.95" stroke="#000" stroke-width="1.9" stroke-linecap="butt"/>
<line x1="1590.71" y1="941.66" x2="1619.29" y2="941.66" stroke="#000" stroke-width="1.9" stroke-linecap="butt"/>
<line x1="1591.5" y1="946.37" x2="1618.5" y2="946.37" stroke="#000" stroke-width="1.9" stroke-linecap="butt"/>
<line x1="1592.3" y1="951.08" x2="1617.7" y2="951.08" stroke="#000" stroke-width="1.9" stroke-linecap="butt"/>
<line x1="1593.1" y1="955.79" x2="1616.9" y2="955.79" stroke="#000" stroke-width="1.9" stroke-linecap="butt"/>
<line x1="1593.9" y1="960.5" x2="1616.1" y2="960.5" stroke="#000" stroke-width="1.9" stroke-linecap="butt"/>
<line x1="1605" y1="970.5" x2="1605" y2="906.4" stroke="#000" stroke-width="1.3" stroke-linecap="butt"/>
<polygon points="1602.2,906.9 1605,900.4 1607.8,906.9" fill="#000" stroke="#000" stroke-width="0.5" stroke-linejoin="miter" stroke-linecap="butt"/>
<polygon points="1674.9,937.5 1678.8,913.4 1701,913.4 1704.9,937.5 1701,960.5 1678.8,960.5" fill="#fff" stroke="#000" stroke-width="1.9" stroke-linejoin="miter" stroke-linecap="butt"/>
<line x1="1678.8" y1="913.4" x2="1701" y2="913.4" stroke="#000" stroke-width="1.9" stroke-linecap="butt"/>
<line x1="1678.04" y1="918.11" x2="1701.76" y2="918.11" stroke="#000" stroke-width="1.9" stroke-linecap="butt"/>
<line x1="1677.28" y1="922.82" x2="1702.52" y2="922.82" stroke="#000" stroke-width="1.9" stroke-linecap="butt"/>
<line x1="1676.51" y1="927.53" x2="1703.29" y2="927.53" stroke="#000" stroke-width="1.9" stroke-linecap="butt"/>
<line x1="1675.75" y1="932.24" x2="1704.05" y2="932.24" stroke="#000" stroke-width="1.9" stroke-linecap="butt"/>
<line x1="1674.99" y1="936.95" x2="1704.81" y2="936.95" stroke="#000" stroke-width="1.9" stroke-linecap="butt"/>
<line x1="1675.61" y1="941.66" x2="1704.19" y2="941.66" stroke="#000" stroke-width="1.9" stroke-linecap="butt"/>
<line x1="1676.4" y1="946.37" x2="1703.4" y2="946.37" stroke="#000" stroke-width="1.9" stroke-linecap="butt"/>
<line x1="1677.2" y1="951.08" x2="1702.6" y2="951.08" stroke="#000" stroke-width="1.9" stroke-linecap="butt"/>
<line x1="1678" y1="955.79" x2="1701.8" y2="955.79" stroke="#000" stroke-width="1.9" stroke-linecap="butt"/>
<line x1="1678.8" y1="960.5" x2="1701" y2="960.5" stroke="#000" stroke-width="1.9" stroke-linecap="butt"/>
<line x1="1689.9" y1="903.4" x2="1689.9" y2="967.5" stroke="#000" stroke-width="1.3" stroke-linecap="butt"/>
<polygon points="1687.1,967 1689.9,973.5 1692.7,967" fill="#000" stroke="#000" stroke-width="0.5" stroke-linejoin="miter" stroke-linecap="butt"/>
<polyline points="1217.1,991.5 1221.4,1014.8 1242,1014.8 1249.2,968.6 1298.9,968.6 1305.9,1014.8 1327.5,1014.8 1330.4,991.5" fill="none" stroke="#000" stroke-width="2" stroke-linejoin="miter" stroke-linecap="butt"/>
<polyline points="1404.5,991.5 1407,1014.8 1428.4,1014.8 1434.7,968.6 1484.7,968.6 1491.4,1014.8 1513.6,1014.8 1516.5,991.5" fill="none" stroke="#000" stroke-width="2" stroke-linejoin="miter" stroke-linecap="butt"/>
<polyline points="1590.6,991.5 1593.8,1014.8 1615.1,1014.8 1620.8,968.6 1671.1,968.6 1678,1014.8 1700.3,1014.8 1702.9,991.5" fill="none" stroke="#000" stroke-width="2" stroke-linejoin="miter" stroke-linecap="butt"/>
<polyline points="1249.7,1042.2 1250.03,1042.18 1250.35,1042.11 1250.67,1042 1251,1041.88 1251.33,1041.76 1251.65,1041.65 1251.97,1041.58 1252.3,1041.56 1252.62,1041.72 1252.95,1042.21 1253.28,1042.93 1253.6,1043.78 1253.92,1044.63 1254.25,1045.36 1254.58,1045.84 1254.9,1046.01 1255.23,1045.81 1255.55,1045.25 1255.88,1044.41 1256.2,1043.42 1256.53,1042.43 1256.85,1041.59 1257.17,1041.02 1257.5,1040.83 1257.88,1041.18 1258.25,1042.2 1258.62,1043.73 1259,1045.52 1259.38,1047.32 1259.75,1048.85 1260.12,1049.86 1260.5,1050.22 1260.86,1049.82 1261.22,1048.69 1261.59,1047 1261.95,1045 1262.31,1043 1262.68,1041.3 1263.04,1040.17 1263.4,1039.77 1263.73,1040.5 1264.05,1042.58 1264.38,1045.7 1264.7,1049.37 1265.03,1053.04 1265.35,1056.16 1265.67,1058.24 1266,1058.97 1266.36,1057.91 1266.72,1054.88 1267.09,1050.34 1267.45,1045 1267.81,1039.65 1268.18,1035.12 1268.54,1032.09 1268.9,1031.03 1269.4,1032.81 1269.9,1037.88 1270.4,1045.48 1270.9,1054.43 1271.4,1063.39 1271.9,1070.99 1272.4,1076.06 1272.9,1077.84 1273.33,1075.27 1273.75,1067.96 1274.17,1057.02 1274.6,1044.11 1275.03,1031.2 1275.45,1020.25 1275.88,1012.94 1276.3,1010.37 1276.78,1012.15 1277.25,1017.24 1277.72,1024.85 1278.2,1033.82 1278.68,1042.79 1279.15,1050.4 1279.62,1055.48 1280.1,1057.27 1280.49,1056.22 1280.88,1053.22 1281.26,1048.74 1281.65,1043.46 1282.04,1038.17 1282.43,1033.69 1282.81,1030.7 1283.2,1029.65 1283.55,1030.37 1283.9,1032.41 1284.25,1035.47 1284.6,1039.08 1284.95,1042.7 1285.3,1045.76 1285.65,1047.8 1286,1048.52 1286.3,1048.11 1286.6,1046.93 1286.9,1045.17 1287.2,1043.09 1287.5,1041.02 1287.8,1039.26 1288.1,1038.08 1288.4,1037.67 1288.78,1038.04 1289.15,1039.1 1289.53,1040.69 1289.9,1042.57 1290.28,1044.44 1290.65,1046.03 1291.03,1047.09 1291.4,1047.47 1291.73,1047.26 1292.05,1046.65 1292.38,1045.74 1292.7,1044.67 1293.03,1043.6 1293.35,1042.7 1293.67,1042.09 1294,1041.88 1294.35,1042.08 1294.7,1042.65 1295.05,1043.5 1295.4,1044.51 1295.75,1045.52 1296.1,1046.37 1296.45,1046.94 1296.8,1047.14 1297.01,1047.01 1297.22,1046.62 1297.44,1046.04 1297.65,1045.36 1297.86,1044.68 1298.08,1044.1 1298.29,1043.72 1298.5,1043.58 1298.56,1043.62 1298.62,1043.75 1298.69,1043.93 1298.75,1044.15 1298.81,1044.36 1298.88,1044.55 1298.94,1044.67 1299,1044.71" fill="none" stroke="#1c4a8d" stroke-width="1.6" stroke-linejoin="round" stroke-linecap="round"/>
<polyline points="1436.1,1042.2 1436.42,1042.18 1436.75,1042.11 1437.07,1042 1437.4,1041.88 1437.72,1041.76 1438.05,1041.65 1438.37,1041.58 1438.7,1041.56 1439.02,1041.72 1439.35,1042.21 1439.67,1042.93 1440,1043.78 1440.32,1044.63 1440.65,1045.36 1440.97,1045.84 1441.3,1046.01 1441.62,1045.81 1441.95,1045.25 1442.27,1044.41 1442.6,1043.42 1442.92,1042.43 1443.25,1041.59 1443.57,1041.02 1443.9,1040.83 1444.27,1041.18 1444.65,1042.2 1445.02,1043.73 1445.4,1045.52 1445.77,1047.32 1446.15,1048.85 1446.52,1049.86 1446.9,1050.22 1447.26,1049.82 1447.62,1048.69 1447.99,1047 1448.35,1045 1448.71,1043 1449.07,1041.3 1449.44,1040.17 1449.8,1039.77 1450.12,1040.5 1450.45,1042.58 1450.77,1045.7 1451.1,1049.37 1451.42,1053.04 1451.75,1056.16 1452.07,1058.24 1452.4,1058.97 1452.76,1057.91 1453.12,1054.88 1453.49,1050.34 1453.85,1045 1454.21,1039.65 1454.57,1035.12 1454.94,1032.09 1455.3,1031.03 1455.8,1032.81 1456.3,1037.88 1456.8,1045.48 1457.3,1054.43 1457.8,1063.39 1458.3,1070.99 1458.8,1076.06 1459.3,1077.84 1459.72,1075.27 1460.15,1067.96 1460.57,1057.02 1461,1044.11 1461.42,1031.2 1461.85,1020.25 1462.27,1012.94 1462.7,1010.37 1463.17,1012.15 1463.65,1017.24 1464.12,1024.85 1464.6,1033.82 1465.07,1042.79 1465.55,1050.4 1466.03,1055.48 1466.5,1057.27 1466.89,1056.22 1467.28,1053.22 1467.66,1048.74 1468.05,1043.46 1468.44,1038.17 1468.82,1033.69 1469.21,1030.7 1469.6,1029.65 1469.95,1030.37 1470.3,1032.41 1470.65,1035.47 1471,1039.08 1471.35,1042.7 1471.7,1045.76 1472.05,1047.8 1472.4,1048.52 1472.7,1048.11 1473,1046.93 1473.3,1045.17 1473.6,1043.09 1473.9,1041.02 1474.2,1039.26 1474.5,1038.08 1474.8,1037.67 1475.17,1038.04 1475.55,1039.1 1475.92,1040.69 1476.3,1042.57 1476.67,1044.44 1477.05,1046.03 1477.42,1047.09 1477.8,1047.47 1478.12,1047.26 1478.45,1046.65 1478.77,1045.74 1479.1,1044.67 1479.42,1043.6 1479.75,1042.7 1480.07,1042.09 1480.4,1041.88 1480.75,1042.08 1481.1,1042.65 1481.45,1043.5 1481.8,1044.51 1482.15,1045.52 1482.5,1046.37 1482.85,1046.94 1483.2,1047.14 1483.41,1047.01 1483.62,1046.62 1483.84,1046.04 1484.05,1045.36 1484.26,1044.68 1484.47,1044.1 1484.69,1043.72 1484.9,1043.58 1484.96,1043.62 1485.02,1043.75 1485.09,1043.93 1485.15,1044.15 1485.21,1044.36 1485.27,1044.55 1485.34,1044.67 1485.4,1044.71" fill="none" stroke="#1c4a8d" stroke-width="1.6" stroke-linejoin="round" stroke-linecap="round"/>
<polyline points="1622.2,1042.2 1622.53,1042.18 1622.85,1042.11 1623.17,1042 1623.5,1041.88 1623.83,1041.76 1624.15,1041.65 1624.47,1041.58 1624.8,1041.56 1625.12,1041.72 1625.45,1042.21 1625.78,1042.93 1626.1,1043.78 1626.42,1044.63 1626.75,1045.36 1627.08,1045.84 1627.4,1046.01 1627.73,1045.81 1628.05,1045.25 1628.38,1044.41 1628.7,1043.42 1629.03,1042.43 1629.35,1041.59 1629.67,1041.02 1630,1040.83 1630.38,1041.18 1630.75,1042.2 1631.12,1043.73 1631.5,1045.52 1631.88,1047.32 1632.25,1048.85 1632.62,1049.86 1633,1050.22 1633.36,1049.82 1633.72,1048.69 1634.09,1047 1634.45,1045 1634.81,1043 1635.18,1041.3 1635.54,1040.17 1635.9,1039.77 1636.23,1040.5 1636.55,1042.58 1636.88,1045.7 1637.2,1049.37 1637.53,1053.04 1637.85,1056.16 1638.17,1058.24 1638.5,1058.97 1638.86,1057.91 1639.22,1054.88 1639.59,1050.34 1639.95,1045 1640.31,1039.65 1640.68,1035.12 1641.04,1032.09 1641.4,1031.03 1641.9,1032.81 1642.4,1037.88 1642.9,1045.48 1643.4,1054.43 1643.9,1063.39 1644.4,1070.99 1644.9,1076.06 1645.4,1077.84 1645.83,1075.27 1646.25,1067.96 1646.67,1057.02 1647.1,1044.11 1647.53,1031.2 1647.95,1020.25 1648.38,1012.94 1648.8,1010.37 1649.28,1012.15 1649.75,1017.24 1650.22,1024.85 1650.7,1033.82 1651.18,1042.79 1651.65,1050.4 1652.12,1055.48 1652.6,1057.27 1652.99,1056.22 1653.38,1053.22 1653.76,1048.74 1654.15,1043.46 1654.54,1038.17 1654.93,1033.69 1655.31,1030.7 1655.7,1029.65 1656.05,1030.37 1656.4,1032.41 1656.75,1035.47 1657.1,1039.08 1657.45,1042.7 1657.8,1045.76 1658.15,1047.8 1658.5,1048.52 1658.8,1048.11 1659.1,1046.93 1659.4,1045.17 1659.7,1043.09 1660,1041.02 1660.3,1039.26 1660.6,1038.08 1660.9,1037.67 1661.28,1038.04 1661.65,1039.1 1662.03,1040.69 1662.4,1042.57 1662.78,1044.44 1663.15,1046.03 1663.53,1047.09 1663.9,1047.47 1664.23,1047.26 1664.55,1046.65 1664.88,1045.74 1665.2,1044.67 1665.53,1043.6 1665.85,1042.7 1666.17,1042.09 1666.5,1041.88 1666.85,1042.08 1667.2,1042.65 1667.55,1043.5 1667.9,1044.51 1668.25,1045.52 1668.6,1046.37 1668.95,1046.94 1669.3,1047.14 1669.51,1047.01 1669.72,1046.62 1669.94,1046.04 1670.15,1045.36 1670.36,1044.68 1670.58,1044.1 1670.79,1043.72 1671,1043.58 1671.06,1043.62 1671.12,1043.75 1671.19,1043.93 1671.25,1044.15 1671.31,1044.36 1671.38,1044.55 1671.44,1044.67 1671.5,1044.71" fill="none" stroke="#1c4a8d" stroke-width="1.6" stroke-linejoin="round" stroke-linecap="round"/>
<line x1="1156" y1="822.6" x2="1714.4" y2="822.6" stroke="#000" stroke-width="2.2" stroke-linecap="butt"/>
<line x1="1721.2" y1="822.6" x2="1756" y2="822.6" stroke="#000" stroke-width="2.2" stroke-linecap="butt" stroke-dasharray="6.8 6.7"/>
</svg></body></html>
